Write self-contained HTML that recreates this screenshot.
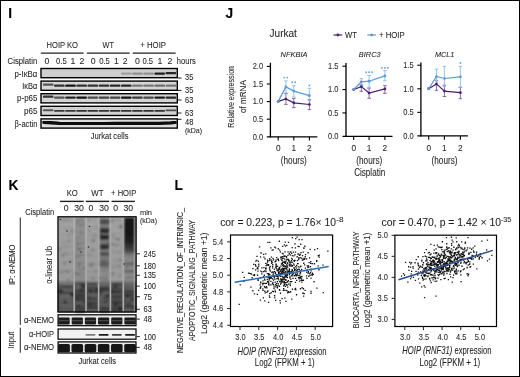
<!DOCTYPE html>
<html><head><meta charset="utf-8"><style>
html,body{margin:0;padding:0;background:#fff;}
body{width:520px;height:377px;overflow:hidden;}
svg{display:block;font-family:"Liberation Sans", sans-serif;will-change:transform;}
text{stroke:#231f20;stroke-width:0.08px;}
</style></head><body>
<svg width="520" height="377" viewBox="0 0 520 377">
<rect x="0" y="0" width="520" height="377" fill="#fff"/>
<text x="8.30" y="17.60" font-size="13.8" font-weight="bold" fill="#000">I</text>
<text x="225.60" y="17.60" font-size="13.8" font-weight="bold" fill="#000">J</text>
<text x="8.40" y="190.30" font-size="13.8" font-weight="bold" fill="#000">K</text>
<text x="174.60" y="190.30" font-size="13.8" font-weight="bold" fill="#000">L</text>
<text x="46.60" y="48.29" font-size="8.7" textLength="31.40" lengthAdjust="spacingAndGlyphs" fill="#231f20">HOIP KO</text>
<text x="102.50" y="48.29" font-size="8.7" textLength="11.40" lengthAdjust="spacingAndGlyphs" fill="#231f20">WT</text>
<text x="140.30" y="48.29" font-size="8.7" textLength="25.70" lengthAdjust="spacingAndGlyphs" fill="#231f20">+ HOIP</text>
<line x1="40.80" y1="53.10" x2="83.60" y2="53.10" stroke="#231f20" stroke-width="1.4"/>
<line x1="86.90" y1="53.10" x2="129.70" y2="53.10" stroke="#231f20" stroke-width="1.4"/>
<line x1="132.70" y1="53.10" x2="175.60" y2="53.10" stroke="#231f20" stroke-width="1.4"/>
<text x="7.60" y="63.59" font-size="8.7" textLength="29.70" lengthAdjust="spacingAndGlyphs" fill="#231f20">Cisplatin</text>
<text x="46.90" y="63.59" font-size="8.7" text-anchor="middle" fill="#231f20">0</text>
<text x="61.40" y="63.59" font-size="8.7" text-anchor="middle" textLength="10.60" lengthAdjust="spacingAndGlyphs" fill="#231f20">0.5</text>
<text x="73.00" y="63.59" font-size="8.7" text-anchor="middle" fill="#231f20">1</text>
<text x="81.90" y="63.59" font-size="8.7" text-anchor="middle" fill="#231f20">2</text>
<text x="93.20" y="63.59" font-size="8.7" text-anchor="middle" fill="#231f20">0</text>
<text x="104.50" y="63.59" font-size="8.7" text-anchor="middle" textLength="10.60" lengthAdjust="spacingAndGlyphs" fill="#231f20">0.5</text>
<text x="116.40" y="63.59" font-size="8.7" text-anchor="middle" fill="#231f20">1</text>
<text x="125.20" y="63.59" font-size="8.7" text-anchor="middle" fill="#231f20">2</text>
<text x="137.30" y="63.59" font-size="8.7" text-anchor="middle" fill="#231f20">0</text>
<text x="147.80" y="63.59" font-size="8.7" text-anchor="middle" textLength="10.60" lengthAdjust="spacingAndGlyphs" fill="#231f20">0.5</text>
<text x="160.00" y="63.59" font-size="8.7" text-anchor="middle" fill="#231f20">1</text>
<text x="170.00" y="63.59" font-size="8.7" text-anchor="middle" fill="#231f20">2</text>
<text x="176.80" y="63.59" font-size="8.7" textLength="18.90" lengthAdjust="spacingAndGlyphs" fill="#231f20">hours</text>
<text x="37.40" y="76.59" font-size="8.7" text-anchor="end" textLength="22.90" lengthAdjust="spacingAndGlyphs" fill="#231f20">p-I&#954;B&#945;</text>
<text x="37.40" y="88.69" font-size="8.7" text-anchor="end" textLength="15.20" lengthAdjust="spacingAndGlyphs" fill="#231f20">I&#954;B&#945;</text>
<text x="37.40" y="101.29" font-size="8.7" text-anchor="end" textLength="20.30" lengthAdjust="spacingAndGlyphs" fill="#231f20">p-p65</text>
<text x="37.40" y="113.69" font-size="8.7" text-anchor="end" textLength="13.40" lengthAdjust="spacingAndGlyphs" fill="#231f20">p65</text>
<text x="37.40" y="126.99" font-size="8.7" text-anchor="end" textLength="22.90" lengthAdjust="spacingAndGlyphs" fill="#231f20">&#946;-actin</text>
<defs><filter id="bl1" x="-20%" y="-50%" width="140%" height="200%"><feGaussianBlur stdDeviation="0.55"/></filter><filter id="bl2" x="-20%" y="-20%" width="140%" height="140%"><feGaussianBlur stdDeviation="0.9"/></filter><filter id="bl3" x="-5%" y="-5%" width="110%" height="110%"><feGaussianBlur stdDeviation="0.45"/></filter></defs>
<rect x="41.00" y="68.50" width="136.30" height="9.20" fill="#cfcfcf" stroke="none" stroke-width="1"/>
<g filter="url(#bl1)">
<rect x="120.95" y="72.50" width="10.6" height="2.2" rx="0.9" fill="#9f9f9f"/>
<rect x="132.10" y="72.50" width="10.6" height="2.2" rx="0.9" fill="#919191"/>
<rect x="143.25" y="72.50" width="10.6" height="2.2" rx="0.9" fill="#919191"/>
<rect x="154.40" y="72.50" width="10.6" height="2.2" rx="0.9" fill="#1f1f1f"/>
<rect x="165.55" y="72.10" width="10.6" height="2.2" rx="0.9" fill="#282828"/>
</g>
<rect x="41.00" y="68.50" width="136.30" height="9.20" fill="none" stroke="#000" stroke-width="1.4"/>
<rect x="41.00" y="81.10" width="136.30" height="9.20" fill="#d6d6d6" stroke="none" stroke-width="1"/>
<g filter="url(#bl1)">
<rect x="42.90" y="83.55" width="10.6" height="2.3" rx="0.9" fill="#545454"/>
<rect x="54.05" y="84.55" width="10.6" height="2.3" rx="0.9" fill="#313131"/>
<rect x="65.20" y="84.55" width="10.6" height="2.3" rx="0.9" fill="#161616"/>
<rect x="76.35" y="84.55" width="10.6" height="2.3" rx="0.9" fill="#313131"/>
<rect x="87.50" y="84.55" width="10.6" height="2.3" rx="0.9" fill="#313131"/>
<rect x="98.65" y="84.55" width="10.6" height="2.3" rx="0.9" fill="#313131"/>
<rect x="109.80" y="84.55" width="10.6" height="2.3" rx="0.9" fill="#282828"/>
<rect x="120.95" y="84.55" width="10.6" height="2.3" rx="0.9" fill="#282828"/>
<rect x="132.10" y="84.55" width="10.6" height="2.3" rx="0.9" fill="#777777"/>
<rect x="143.25" y="84.55" width="10.6" height="2.3" rx="0.9" fill="#777777"/>
<rect x="154.40" y="84.55" width="10.6" height="2.3" rx="0.9" fill="#6e6e6e"/>
<rect x="165.55" y="84.55" width="10.6" height="2.3" rx="0.9" fill="#777777"/>
</g>
<rect x="41.00" y="81.10" width="136.30" height="9.20" fill="none" stroke="#000" stroke-width="1.4"/>
<rect x="41.00" y="93.70" width="136.30" height="9.20" fill="#d4d4d4" stroke="none" stroke-width="1"/>
<g filter="url(#bl1)">
<rect x="42.90" y="95.60" width="10.6" height="2.2" rx="0.9" fill="#313131"/>
<rect x="54.05" y="96.50" width="10.6" height="2.2" rx="0.9" fill="#545454"/>
<rect x="65.20" y="96.50" width="10.6" height="2.2" rx="0.9" fill="#282828"/>
<rect x="76.35" y="96.50" width="10.6" height="2.2" rx="0.9" fill="#161616"/>
<rect x="87.50" y="96.50" width="10.6" height="2.2" rx="0.9" fill="#4b4b4b"/>
<rect x="98.65" y="96.50" width="10.6" height="2.2" rx="0.9" fill="#424242"/>
<rect x="109.80" y="96.50" width="10.6" height="2.2" rx="0.9" fill="#424242"/>
<rect x="120.95" y="96.50" width="10.6" height="2.2" rx="0.9" fill="#161616"/>
<rect x="132.10" y="96.50" width="10.6" height="2.2" rx="0.9" fill="#3a3a3a"/>
<rect x="143.25" y="96.50" width="10.6" height="2.2" rx="0.9" fill="#4b4b4b"/>
<rect x="154.40" y="96.50" width="10.6" height="2.2" rx="0.9" fill="#1f1f1f"/>
<rect x="165.55" y="96.50" width="10.6" height="2.2" rx="0.9" fill="#282828"/>
</g>
<rect x="41.00" y="93.70" width="136.30" height="9.20" fill="none" stroke="#000" stroke-width="1.4"/>
<rect x="41.00" y="106.30" width="136.30" height="9.20" fill="#d2d2d2" stroke="none" stroke-width="1"/>
<g filter="url(#bl1)">
<rect x="42.90" y="109.25" width="10.6" height="1.9" rx="0.9" fill="#545454"/>
<rect x="54.05" y="109.95" width="10.6" height="1.9" rx="0.9" fill="#3a3a3a"/>
<rect x="65.20" y="109.95" width="10.6" height="1.9" rx="0.9" fill="#3a3a3a"/>
<rect x="76.35" y="109.95" width="10.6" height="1.9" rx="0.9" fill="#313131"/>
<rect x="87.50" y="109.95" width="10.6" height="1.9" rx="0.9" fill="#313131"/>
<rect x="98.65" y="109.95" width="10.6" height="1.9" rx="0.9" fill="#313131"/>
<rect x="109.80" y="109.95" width="10.6" height="1.9" rx="0.9" fill="#313131"/>
<rect x="120.95" y="109.95" width="10.6" height="1.9" rx="0.9" fill="#313131"/>
<rect x="132.10" y="109.95" width="10.6" height="1.9" rx="0.9" fill="#313131"/>
<rect x="143.25" y="109.95" width="10.6" height="1.9" rx="0.9" fill="#313131"/>
<rect x="154.40" y="109.95" width="10.6" height="1.9" rx="0.9" fill="#313131"/>
<rect x="165.55" y="109.45" width="10.6" height="1.9" rx="0.9" fill="#4b4b4b"/>
</g>
<rect x="41.00" y="106.30" width="136.30" height="9.20" fill="none" stroke="#000" stroke-width="1.4"/>
<rect x="41.00" y="118.90" width="136.30" height="9.20" fill="#dedede" stroke="none" stroke-width="1"/>
<g filter="url(#bl1)">
<path d="M43.8 122.4 L48.2 122.5 L59.4 123.4 L70.5 123.6 L81.7 123.6 L92.8 123.6 L104.0 123.6 L115.1 123.5 L126.2 123.5 L137.4 123.5 L148.6 123.5 L159.7 123.4 L170.9 122.8 L175.2 122.4" fill="none" stroke="#0a0a0a" stroke-width="3.3" stroke-linecap="round" stroke-linejoin="round"/>
</g>
<rect x="41.00" y="118.90" width="136.30" height="9.20" fill="none" stroke="#000" stroke-width="1.4"/>
<line x1="178.00" y1="78.00" x2="181.50" y2="78.00" stroke="#231f20" stroke-width="1.0"/>
<text x="185.00" y="80.49" font-size="8.7" textLength="8.30" lengthAdjust="spacingAndGlyphs" fill="#231f20">35</text>
<line x1="178.00" y1="90.40" x2="181.50" y2="90.40" stroke="#231f20" stroke-width="1.0"/>
<text x="185.00" y="92.99" font-size="8.7" textLength="8.30" lengthAdjust="spacingAndGlyphs" fill="#231f20">35</text>
<line x1="178.00" y1="100.00" x2="181.50" y2="100.00" stroke="#231f20" stroke-width="1.0"/>
<text x="185.00" y="102.99" font-size="8.7" textLength="8.30" lengthAdjust="spacingAndGlyphs" fill="#231f20">63</text>
<line x1="178.00" y1="113.00" x2="181.50" y2="113.00" stroke="#231f20" stroke-width="1.0"/>
<text x="185.00" y="115.99" font-size="8.7" textLength="8.30" lengthAdjust="spacingAndGlyphs" fill="#231f20">63</text>
<line x1="178.00" y1="119.30" x2="181.50" y2="119.30" stroke="#231f20" stroke-width="1.0"/>
<text x="185.00" y="124.99" font-size="8.7" textLength="8.30" lengthAdjust="spacingAndGlyphs" fill="#231f20">48</text>
<text x="184.90" y="133.20" font-size="7.4" textLength="17.20" lengthAdjust="spacingAndGlyphs" fill="#231f20">(kDa)</text>
<text x="90.70" y="139.49" font-size="8.7" textLength="37.80" lengthAdjust="spacingAndGlyphs" fill="#231f20">Jurkat cells</text>
<text x="269.60" y="36.90" font-size="10.3" textLength="27.20" lengthAdjust="spacingAndGlyphs" fill="#231f20">Jurkat</text>
<line x1="333.50" y1="35.00" x2="342.20" y2="35.00" stroke="#4b1f6f" stroke-width="1.2"/>
<circle cx="337.9" cy="35" r="1.4" fill="#4b1f6f"/>
<text x="345.10" y="38.29" font-size="8.7" textLength="11.90" lengthAdjust="spacingAndGlyphs" fill="#231f20">WT</text>
<line x1="367.30" y1="35.00" x2="376.00" y2="35.00" stroke="#5b9ad6" stroke-width="1.2"/>
<circle cx="371.7" cy="35" r="1.4" fill="#5b9ad6"/>
<text x="379.00" y="38.29" font-size="8.7" textLength="25.70" lengthAdjust="spacingAndGlyphs" fill="#231f20">+ HOIP</text>
<text x="280.60" y="56.60" font-size="8.0" font-style="italic" textLength="27.00" lengthAdjust="spacingAndGlyphs" fill="#231f20">NFKBIA</text>
<text x="358.80" y="56.60" font-size="8.0" font-style="italic" textLength="21.80" lengthAdjust="spacingAndGlyphs" fill="#231f20">BIRC3</text>
<text x="435.00" y="56.60" font-size="8.0" font-style="italic" textLength="19.40" lengthAdjust="spacingAndGlyphs" fill="#231f20">MCL1</text>
<text transform="translate(234.40,96.80) rotate(-90)" x="0" y="0" font-size="9.6" text-anchor="middle" textLength="61.70" lengthAdjust="spacingAndGlyphs" fill="#231f20">Relative expression</text>
<text transform="translate(245.60,96.60) rotate(-90)" x="0" y="0" font-size="9.6" text-anchor="middle" textLength="33.00" lengthAdjust="spacingAndGlyphs" fill="#231f20">of mRNA</text>
<line x1="270.40" y1="62.80" x2="270.40" y2="137.40" stroke="#000" stroke-width="1.3"/>
<line x1="266.80" y1="136.80" x2="317.30" y2="136.80" stroke="#000" stroke-width="1.3"/>
<text x="263.10" y="139.60" font-size="9.0" text-anchor="end" textLength="10.40" lengthAdjust="spacingAndGlyphs" fill="#231f20">0.0</text>
<line x1="266.80" y1="119.20" x2="270.40" y2="119.20" stroke="#000" stroke-width="1.1"/>
<text x="263.10" y="122.00" font-size="9.0" text-anchor="end" textLength="10.40" lengthAdjust="spacingAndGlyphs" fill="#231f20">0.5</text>
<line x1="266.80" y1="101.60" x2="270.40" y2="101.60" stroke="#000" stroke-width="1.1"/>
<text x="263.10" y="104.40" font-size="9.0" text-anchor="end" textLength="10.40" lengthAdjust="spacingAndGlyphs" fill="#231f20">1.0</text>
<line x1="266.80" y1="84.00" x2="270.40" y2="84.00" stroke="#000" stroke-width="1.1"/>
<text x="263.10" y="86.80" font-size="9.0" text-anchor="end" textLength="10.40" lengthAdjust="spacingAndGlyphs" fill="#231f20">1.5</text>
<line x1="266.80" y1="66.40" x2="270.40" y2="66.40" stroke="#000" stroke-width="1.1"/>
<text x="263.10" y="69.20" font-size="9.0" text-anchor="end" textLength="10.40" lengthAdjust="spacingAndGlyphs" fill="#231f20">2.0</text>
<line x1="278.20" y1="136.80" x2="278.20" y2="140.60" stroke="#000" stroke-width="1.1"/>
<line x1="293.80" y1="136.80" x2="293.80" y2="140.60" stroke="#000" stroke-width="1.1"/>
<line x1="309.40" y1="136.80" x2="309.40" y2="140.60" stroke="#000" stroke-width="1.1"/>
<text x="278.20" y="150.60" font-size="9.0" text-anchor="middle" textLength="4.60" lengthAdjust="spacingAndGlyphs" fill="#231f20">0</text>
<text x="293.80" y="150.60" font-size="9.0" text-anchor="middle" textLength="4.60" lengthAdjust="spacingAndGlyphs" fill="#231f20">1</text>
<text x="309.40" y="150.60" font-size="9.0" text-anchor="middle" textLength="4.60" lengthAdjust="spacingAndGlyphs" fill="#231f20">2</text>
<text x="293.80" y="164.20" font-size="10.2" text-anchor="middle" textLength="26.00" lengthAdjust="spacingAndGlyphs" fill="#231f20">(hours)</text>
<line x1="285.90" y1="93.60" x2="285.90" y2="104.40" stroke="#7d5e96" stroke-width="0.9"/>
<line x1="284.10" y1="93.60" x2="287.70" y2="93.60" stroke="#7d5e96" stroke-width="0.9"/>
<line x1="284.10" y1="104.40" x2="287.70" y2="104.40" stroke="#7d5e96" stroke-width="0.9"/>
<line x1="293.80" y1="98.40" x2="293.80" y2="107.60" stroke="#7d5e96" stroke-width="0.9"/>
<line x1="292.00" y1="98.40" x2="295.60" y2="98.40" stroke="#7d5e96" stroke-width="0.9"/>
<line x1="292.00" y1="107.60" x2="295.60" y2="107.60" stroke="#7d5e96" stroke-width="0.9"/>
<line x1="309.40" y1="99.70" x2="309.40" y2="109.60" stroke="#7d5e96" stroke-width="0.9"/>
<line x1="307.60" y1="99.70" x2="311.20" y2="99.70" stroke="#7d5e96" stroke-width="0.9"/>
<line x1="307.60" y1="109.60" x2="311.20" y2="109.60" stroke="#7d5e96" stroke-width="0.9"/>
<line x1="285.90" y1="80.90" x2="285.90" y2="93.00" stroke="#8dbbe6" stroke-width="0.9"/>
<line x1="284.10" y1="80.90" x2="287.70" y2="80.90" stroke="#8dbbe6" stroke-width="0.9"/>
<line x1="284.10" y1="93.00" x2="287.70" y2="93.00" stroke="#8dbbe6" stroke-width="0.9"/>
<line x1="293.80" y1="85.60" x2="293.80" y2="97.00" stroke="#8dbbe6" stroke-width="0.9"/>
<line x1="292.00" y1="85.60" x2="295.60" y2="85.60" stroke="#8dbbe6" stroke-width="0.9"/>
<line x1="292.00" y1="97.00" x2="295.60" y2="97.00" stroke="#8dbbe6" stroke-width="0.9"/>
<line x1="309.40" y1="88.30" x2="309.40" y2="100.40" stroke="#8dbbe6" stroke-width="0.9"/>
<line x1="307.60" y1="88.30" x2="311.20" y2="88.30" stroke="#8dbbe6" stroke-width="0.9"/>
<line x1="307.60" y1="100.40" x2="311.20" y2="100.40" stroke="#8dbbe6" stroke-width="0.9"/>
<polyline points="278.20,101.40 285.90,99.00 293.80,102.80 309.40,104.50" fill="none" stroke="#4b1f6f" stroke-width="1.2"/>
<circle cx="278.20" cy="101.40" r="1.35" fill="#4b1f6f"/>
<circle cx="285.90" cy="99.00" r="1.35" fill="#4b1f6f"/>
<circle cx="293.80" cy="102.80" r="1.35" fill="#4b1f6f"/>
<circle cx="309.40" cy="104.50" r="1.35" fill="#4b1f6f"/>
<polyline points="278.20,101.40 285.90,86.90 293.80,91.10 309.40,95.70" fill="none" stroke="#5b9ad6" stroke-width="1.2"/>
<circle cx="278.20" cy="101.40" r="1.35" fill="#5b9ad6"/>
<circle cx="285.90" cy="86.90" r="1.35" fill="#5b9ad6"/>
<circle cx="293.80" cy="91.10" r="1.35" fill="#5b9ad6"/>
<circle cx="309.40" cy="95.70" r="1.35" fill="#5b9ad6"/>
<circle cx="284.30" cy="77.60" r="0.95" fill="#6aa6dd"/>
<circle cx="287.30" cy="77.60" r="0.95" fill="#6aa6dd"/>
<circle cx="292.20" cy="82.30" r="0.95" fill="#6aa6dd"/>
<circle cx="295.20" cy="82.30" r="0.95" fill="#6aa6dd"/>
<circle cx="309.30" cy="85.40" r="0.95" fill="#6aa6dd"/>
<line x1="346.00" y1="63.10" x2="346.00" y2="136.90" stroke="#000" stroke-width="1.3"/>
<line x1="342.40" y1="136.30" x2="392.50" y2="136.30" stroke="#000" stroke-width="1.3"/>
<text x="338.50" y="139.10" font-size="9.0" text-anchor="end" textLength="10.40" lengthAdjust="spacingAndGlyphs" fill="#231f20">0.0</text>
<line x1="342.40" y1="112.93" x2="346.00" y2="112.93" stroke="#000" stroke-width="1.1"/>
<text x="338.50" y="115.73" font-size="9.0" text-anchor="end" textLength="10.40" lengthAdjust="spacingAndGlyphs" fill="#231f20">0.5</text>
<line x1="342.40" y1="89.55" x2="346.00" y2="89.55" stroke="#000" stroke-width="1.1"/>
<text x="338.50" y="92.35" font-size="9.0" text-anchor="end" textLength="10.40" lengthAdjust="spacingAndGlyphs" fill="#231f20">1.0</text>
<line x1="342.40" y1="66.18" x2="346.00" y2="66.18" stroke="#000" stroke-width="1.1"/>
<text x="338.50" y="68.98" font-size="9.0" text-anchor="end" textLength="10.40" lengthAdjust="spacingAndGlyphs" fill="#231f20">1.5</text>
<line x1="353.70" y1="136.30" x2="353.70" y2="140.10" stroke="#000" stroke-width="1.1"/>
<line x1="369.10" y1="136.30" x2="369.10" y2="140.10" stroke="#000" stroke-width="1.1"/>
<line x1="384.90" y1="136.30" x2="384.90" y2="140.10" stroke="#000" stroke-width="1.1"/>
<text x="353.70" y="150.60" font-size="9.0" text-anchor="middle" textLength="4.60" lengthAdjust="spacingAndGlyphs" fill="#231f20">0</text>
<text x="369.10" y="150.60" font-size="9.0" text-anchor="middle" textLength="4.60" lengthAdjust="spacingAndGlyphs" fill="#231f20">1</text>
<text x="384.90" y="150.60" font-size="9.0" text-anchor="middle" textLength="4.60" lengthAdjust="spacingAndGlyphs" fill="#231f20">2</text>
<text x="369.30" y="164.20" font-size="10.2" text-anchor="middle" textLength="26.00" lengthAdjust="spacingAndGlyphs" fill="#231f20">(hours)</text>
<line x1="361.30" y1="84.90" x2="361.30" y2="91.30" stroke="#7d5e96" stroke-width="0.9"/>
<line x1="359.50" y1="84.90" x2="363.10" y2="84.90" stroke="#7d5e96" stroke-width="0.9"/>
<line x1="359.50" y1="91.30" x2="363.10" y2="91.30" stroke="#7d5e96" stroke-width="0.9"/>
<line x1="369.10" y1="88.00" x2="369.10" y2="98.30" stroke="#7d5e96" stroke-width="0.9"/>
<line x1="367.30" y1="88.00" x2="370.90" y2="88.00" stroke="#7d5e96" stroke-width="0.9"/>
<line x1="367.30" y1="98.30" x2="370.90" y2="98.30" stroke="#7d5e96" stroke-width="0.9"/>
<line x1="384.90" y1="85.70" x2="384.90" y2="93.40" stroke="#7d5e96" stroke-width="0.9"/>
<line x1="383.10" y1="85.70" x2="386.70" y2="85.70" stroke="#7d5e96" stroke-width="0.9"/>
<line x1="383.10" y1="93.40" x2="386.70" y2="93.40" stroke="#7d5e96" stroke-width="0.9"/>
<line x1="361.30" y1="78.60" x2="361.30" y2="84.90" stroke="#8dbbe6" stroke-width="0.9"/>
<line x1="359.50" y1="78.60" x2="363.10" y2="78.60" stroke="#8dbbe6" stroke-width="0.9"/>
<line x1="359.50" y1="84.90" x2="363.10" y2="84.90" stroke="#8dbbe6" stroke-width="0.9"/>
<line x1="369.10" y1="75.50" x2="369.10" y2="87.30" stroke="#8dbbe6" stroke-width="0.9"/>
<line x1="367.30" y1="75.50" x2="370.90" y2="75.50" stroke="#8dbbe6" stroke-width="0.9"/>
<line x1="367.30" y1="87.30" x2="370.90" y2="87.30" stroke="#8dbbe6" stroke-width="0.9"/>
<line x1="384.90" y1="70.50" x2="384.90" y2="80.80" stroke="#8dbbe6" stroke-width="0.9"/>
<line x1="383.10" y1="70.50" x2="386.70" y2="70.50" stroke="#8dbbe6" stroke-width="0.9"/>
<line x1="383.10" y1="80.80" x2="386.70" y2="80.80" stroke="#8dbbe6" stroke-width="0.9"/>
<polyline points="353.70,89.50 361.30,86.60 369.10,93.00 384.90,88.90" fill="none" stroke="#4b1f6f" stroke-width="1.2"/>
<circle cx="353.70" cy="89.50" r="1.35" fill="#4b1f6f"/>
<circle cx="361.30" cy="86.60" r="1.35" fill="#4b1f6f"/>
<circle cx="369.10" cy="93.00" r="1.35" fill="#4b1f6f"/>
<circle cx="384.90" cy="88.90" r="1.35" fill="#4b1f6f"/>
<polyline points="353.70,89.50 361.30,81.90 369.10,81.20 384.90,75.90" fill="none" stroke="#5b9ad6" stroke-width="1.2"/>
<circle cx="353.70" cy="89.50" r="1.35" fill="#5b9ad6"/>
<circle cx="361.30" cy="81.90" r="1.35" fill="#5b9ad6"/>
<circle cx="369.10" cy="81.20" r="1.35" fill="#5b9ad6"/>
<circle cx="384.90" cy="75.90" r="1.35" fill="#5b9ad6"/>
<circle cx="366.10" cy="72.30" r="0.95" fill="#6aa6dd"/>
<circle cx="369.10" cy="72.30" r="0.95" fill="#6aa6dd"/>
<circle cx="372.10" cy="72.30" r="0.95" fill="#6aa6dd"/>
<circle cx="381.90" cy="67.90" r="0.95" fill="#6aa6dd"/>
<circle cx="384.90" cy="67.90" r="0.95" fill="#6aa6dd"/>
<circle cx="387.90" cy="67.90" r="0.95" fill="#6aa6dd"/>
<line x1="420.90" y1="62.40" x2="420.90" y2="136.50" stroke="#000" stroke-width="1.3"/>
<line x1="417.30" y1="135.90" x2="467.90" y2="135.90" stroke="#000" stroke-width="1.3"/>
<text x="413.70" y="138.70" font-size="9.0" text-anchor="end" textLength="10.40" lengthAdjust="spacingAndGlyphs" fill="#231f20">0.0</text>
<line x1="417.30" y1="112.35" x2="420.90" y2="112.35" stroke="#000" stroke-width="1.1"/>
<text x="413.70" y="115.15" font-size="9.0" text-anchor="end" textLength="10.40" lengthAdjust="spacingAndGlyphs" fill="#231f20">0.5</text>
<line x1="417.30" y1="88.80" x2="420.90" y2="88.80" stroke="#000" stroke-width="1.1"/>
<text x="413.70" y="91.60" font-size="9.0" text-anchor="end" textLength="10.40" lengthAdjust="spacingAndGlyphs" fill="#231f20">1.0</text>
<line x1="417.30" y1="65.25" x2="420.90" y2="65.25" stroke="#000" stroke-width="1.1"/>
<text x="413.70" y="68.05" font-size="9.0" text-anchor="end" textLength="10.40" lengthAdjust="spacingAndGlyphs" fill="#231f20">1.5</text>
<line x1="428.70" y1="135.90" x2="428.70" y2="139.70" stroke="#000" stroke-width="1.1"/>
<line x1="444.40" y1="135.90" x2="444.40" y2="139.70" stroke="#000" stroke-width="1.1"/>
<line x1="460.40" y1="135.90" x2="460.40" y2="139.70" stroke="#000" stroke-width="1.1"/>
<text x="428.70" y="150.60" font-size="9.0" text-anchor="middle" textLength="4.60" lengthAdjust="spacingAndGlyphs" fill="#231f20">0</text>
<text x="444.40" y="150.60" font-size="9.0" text-anchor="middle" textLength="4.60" lengthAdjust="spacingAndGlyphs" fill="#231f20">1</text>
<text x="460.40" y="150.60" font-size="9.0" text-anchor="middle" textLength="4.60" lengthAdjust="spacingAndGlyphs" fill="#231f20">2</text>
<text x="444.55" y="164.20" font-size="10.2" text-anchor="middle" textLength="26.00" lengthAdjust="spacingAndGlyphs" fill="#231f20">(hours)</text>
<line x1="436.50" y1="80.80" x2="436.50" y2="90.30" stroke="#7d5e96" stroke-width="0.9"/>
<line x1="434.70" y1="80.80" x2="438.30" y2="80.80" stroke="#7d5e96" stroke-width="0.9"/>
<line x1="434.70" y1="90.30" x2="438.30" y2="90.30" stroke="#7d5e96" stroke-width="0.9"/>
<line x1="444.40" y1="85.20" x2="444.40" y2="96.50" stroke="#7d5e96" stroke-width="0.9"/>
<line x1="442.60" y1="85.20" x2="446.20" y2="85.20" stroke="#7d5e96" stroke-width="0.9"/>
<line x1="442.60" y1="96.50" x2="446.20" y2="96.50" stroke="#7d5e96" stroke-width="0.9"/>
<line x1="460.40" y1="87.30" x2="460.40" y2="98.70" stroke="#7d5e96" stroke-width="0.9"/>
<line x1="458.60" y1="87.30" x2="462.20" y2="87.30" stroke="#7d5e96" stroke-width="0.9"/>
<line x1="458.60" y1="98.70" x2="462.20" y2="98.70" stroke="#7d5e96" stroke-width="0.9"/>
<line x1="436.50" y1="69.10" x2="436.50" y2="85.30" stroke="#8dbbe6" stroke-width="0.9"/>
<line x1="434.70" y1="69.10" x2="438.30" y2="69.10" stroke="#8dbbe6" stroke-width="0.9"/>
<line x1="434.70" y1="85.30" x2="438.30" y2="85.30" stroke="#8dbbe6" stroke-width="0.9"/>
<line x1="444.40" y1="66.40" x2="444.40" y2="86.50" stroke="#8dbbe6" stroke-width="0.9"/>
<line x1="442.60" y1="66.40" x2="446.20" y2="66.40" stroke="#8dbbe6" stroke-width="0.9"/>
<line x1="442.60" y1="86.50" x2="446.20" y2="86.50" stroke="#8dbbe6" stroke-width="0.9"/>
<line x1="460.40" y1="66.40" x2="460.40" y2="87.30" stroke="#8dbbe6" stroke-width="0.9"/>
<line x1="458.60" y1="66.40" x2="462.20" y2="66.40" stroke="#8dbbe6" stroke-width="0.9"/>
<line x1="458.60" y1="87.30" x2="462.20" y2="87.30" stroke="#8dbbe6" stroke-width="0.9"/>
<polyline points="428.70,88.70 436.50,83.90 444.40,91.10 460.40,92.70" fill="none" stroke="#4b1f6f" stroke-width="1.2"/>
<circle cx="428.70" cy="88.70" r="1.35" fill="#4b1f6f"/>
<circle cx="436.50" cy="83.90" r="1.35" fill="#4b1f6f"/>
<circle cx="444.40" cy="91.10" r="1.35" fill="#4b1f6f"/>
<circle cx="460.40" cy="92.70" r="1.35" fill="#4b1f6f"/>
<polyline points="428.70,88.70 436.50,76.50 444.40,78.50 460.40,76.80" fill="none" stroke="#5b9ad6" stroke-width="1.2"/>
<circle cx="428.70" cy="88.70" r="1.35" fill="#5b9ad6"/>
<circle cx="436.50" cy="76.50" r="1.35" fill="#5b9ad6"/>
<circle cx="444.40" cy="78.50" r="1.35" fill="#5b9ad6"/>
<circle cx="460.40" cy="76.80" r="1.35" fill="#5b9ad6"/>
<circle cx="460.40" cy="63.00" r="0.95" fill="#6aa6dd"/>
<text x="354.20" y="175.60" font-size="10.2" textLength="31.00" lengthAdjust="spacingAndGlyphs" fill="#231f20">Cisplatin</text>
<text x="66.70" y="196.10" font-size="8.7" textLength="11.10" lengthAdjust="spacingAndGlyphs" fill="#231f20">KO</text>
<text x="91.30" y="196.10" font-size="8.7" textLength="12.20" lengthAdjust="spacingAndGlyphs" fill="#231f20">WT</text>
<text x="111.10" y="196.10" font-size="8.7" textLength="25.10" lengthAdjust="spacingAndGlyphs" fill="#231f20">+ HOIP</text>
<line x1="60.00" y1="201.40" x2="83.70" y2="201.40" stroke="#231f20" stroke-width="1.4"/>
<line x1="85.70" y1="201.40" x2="109.10" y2="201.40" stroke="#231f20" stroke-width="1.4"/>
<line x1="111.50" y1="201.40" x2="134.80" y2="201.40" stroke="#231f20" stroke-width="1.4"/>
<text x="66.10" y="211.30" font-size="8.7" text-anchor="middle" fill="#231f20">0</text>
<text x="79.00" y="211.30" font-size="8.7" text-anchor="middle" fill="#231f20">30</text>
<text x="91.00" y="211.30" font-size="8.7" text-anchor="middle" fill="#231f20">0</text>
<text x="104.10" y="211.30" font-size="8.7" text-anchor="middle" fill="#231f20">30</text>
<text x="115.60" y="211.30" font-size="8.7" text-anchor="middle" fill="#231f20">0</text>
<text x="128.30" y="211.30" font-size="8.7" text-anchor="middle" fill="#231f20">30</text>
<text x="25.20" y="215.00" font-size="8.7" textLength="29.00" lengthAdjust="spacingAndGlyphs" fill="#231f20">Cisplatin</text>
<text x="139.90" y="214.80" font-size="7.6" textLength="12.10" lengthAdjust="spacingAndGlyphs" fill="#231f20">min</text>
<text x="139.90" y="223.30" font-size="7.4" textLength="17.10" lengthAdjust="spacingAndGlyphs" fill="#231f20">(kDa)</text>
<defs><linearGradient id="gK" x1="0" y1="0" x2="0" y2="1"><stop offset="0" stop-color="#a2a2a2"/><stop offset="0.66" stop-color="#9a9a9a"/><stop offset="0.70" stop-color="#6c6c6c"/><stop offset="0.75" stop-color="#565656"/><stop offset="1" stop-color="#505050"/></linearGradient><linearGradient id="gD" x1="0" y1="0" x2="0" y2="1"><stop offset="0" stop-color="#c4c4c4" stop-opacity="0.45"/><stop offset="0.66" stop-color="#c0c0c0" stop-opacity="0.45"/><stop offset="0.74" stop-color="#b2b2b2"/><stop offset="1" stop-color="#aaaaaa"/></linearGradient><linearGradient id="gL6" x1="0" y1="0" x2="0" y2="1"><stop offset="0" stop-color="#111"/><stop offset="0.55" stop-color="#1c1c1c"/><stop offset="0.78" stop-color="#444"/><stop offset="1" stop-color="#8a8a8a" stop-opacity="0"/></linearGradient></defs>
<rect x="57.50" y="216.30" width="79.10" height="96.20" fill="url(#gK)" stroke="none" stroke-width="1"/>
<g filter="url(#bl2)">
<rect x="60.0" y="219.0" width="12.7" height="2.8" fill="#5a5a5a" opacity="0.17"/>
<circle cx="66.6" cy="220.1" r="0.9" fill="#555" opacity="0.37"/>
<circle cx="65.1" cy="219.2" r="0.8" fill="#555" opacity="0.55"/>
<rect x="60.0" y="226.9" width="12.7" height="1.7" fill="#5a5a5a" opacity="0.12"/>
<circle cx="72.8" cy="230.5" r="1.6" fill="#555" opacity="0.37"/>
<circle cx="66.3" cy="229.6" r="0.9" fill="#555" opacity="0.42"/>
<rect x="60.0" y="232.2" width="12.7" height="3.0" fill="#5a5a5a" opacity="0.06"/>
<circle cx="68.8" cy="235.7" r="1.0" fill="#555" opacity="0.52"/>
<circle cx="71.4" cy="232.2" r="1.5" fill="#555" opacity="0.25"/>
<rect x="60.0" y="239.6" width="12.7" height="2.1" fill="#5a5a5a" opacity="0.08"/>
<circle cx="64.0" cy="242.9" r="1.1" fill="#555" opacity="0.29"/>
<circle cx="69.1" cy="241.4" r="1.6" fill="#555" opacity="0.32"/>
<rect x="60.0" y="245.5" width="12.7" height="2.8" fill="#5a5a5a" opacity="0.13"/>
<circle cx="66.4" cy="246.4" r="0.8" fill="#555" opacity="0.53"/>
<circle cx="60.7" cy="248.9" r="1.2" fill="#555" opacity="0.54"/>
<rect x="60.0" y="252.4" width="12.7" height="3.1" fill="#5a5a5a" opacity="0.13"/>
<circle cx="62.8" cy="255.4" r="1.5" fill="#555" opacity="0.46"/>
<circle cx="65.9" cy="253.3" r="1.4" fill="#555" opacity="0.28"/>
<rect x="60.0" y="260.7" width="12.7" height="2.5" fill="#5a5a5a" opacity="0.11"/>
<circle cx="70.4" cy="261.5" r="1.2" fill="#555" opacity="0.49"/>
<circle cx="64.7" cy="263.6" r="1.4" fill="#555" opacity="0.53"/>
<rect x="60.0" y="269.7" width="12.7" height="2.6" fill="#5a5a5a" opacity="0.17"/>
<circle cx="61.6" cy="272.5" r="1.6" fill="#555" opacity="0.37"/>
<circle cx="67.1" cy="271.6" r="1.8" fill="#555" opacity="0.35"/>
<rect x="60.0" y="276.4" width="12.7" height="1.2" fill="#5a5a5a" opacity="0.11"/>
<circle cx="68.2" cy="280.2" r="1.7" fill="#555" opacity="0.35"/>
<circle cx="73.0" cy="277.2" r="1.6" fill="#555" opacity="0.30"/>
<rect x="59.8" y="283.0" width="13.1" height="1.4" fill="#8a8a8a" opacity="0.45"/>
<rect x="59.8" y="285.4" width="13.1" height="2.4" fill="#2a2a2a" opacity="0.6"/>
<rect x="59.8" y="289.4" width="13.1" height="1.4" fill="#747474" opacity="0.45"/>
<rect x="59.8" y="292.3" width="13.1" height="1.3" fill="#1f1f1f" opacity="0.6"/>
<rect x="59.8" y="294.9" width="13.1" height="3.2" fill="#7c7c7c" opacity="0.45"/>
<rect x="59.8" y="299.6" width="13.1" height="2.7" fill="#767676" opacity="0.45"/>
<rect x="59.8" y="304.3" width="13.1" height="2.1" fill="#868686" opacity="0.45"/>
<rect x="59.8" y="307.9" width="13.1" height="2.7" fill="#696969" opacity="0.45"/>
<circle cx="61.5" cy="291.1" r="1.3" fill="#1c1c1c" opacity="0.7"/>
<circle cx="60.2" cy="291.2" r="1.8" fill="#1c1c1c" opacity="0.7"/>
<circle cx="71.6" cy="294.4" r="1.5" fill="#1c1c1c" opacity="0.7"/>
<circle cx="65.2" cy="302.3" r="2.0" fill="#1c1c1c" opacity="0.7"/>
<circle cx="72.4" cy="295.0" r="1.9" fill="#1c1c1c" opacity="0.7"/>
<rect x="75.2" y="217.3" width="9.8" height="94.2" fill="#000" opacity="0.1"/>
<rect x="75.7" y="219.0" width="8.8" height="1.9" fill="#5a5a5a" opacity="0.27"/>
<circle cx="77.5" cy="222.5" r="1.3" fill="#555" opacity="0.47"/>
<circle cx="80.4" cy="220.3" r="1.3" fill="#555" opacity="0.27"/>
<rect x="75.7" y="223.6" width="8.8" height="2.3" fill="#5a5a5a" opacity="0.22"/>
<circle cx="83.4" cy="223.6" r="1.4" fill="#555" opacity="0.40"/>
<circle cx="81.1" cy="226.5" r="1.3" fill="#555" opacity="0.42"/>
<rect x="75.7" y="230.3" width="8.8" height="2.4" fill="#5a5a5a" opacity="0.19"/>
<circle cx="80.6" cy="233.0" r="1.0" fill="#555" opacity="0.55"/>
<circle cx="82.5" cy="234.1" r="1.1" fill="#555" opacity="0.38"/>
<rect x="75.7" y="236.3" width="8.8" height="1.3" fill="#5a5a5a" opacity="0.15"/>
<circle cx="77.6" cy="239.7" r="1.0" fill="#555" opacity="0.46"/>
<circle cx="77.6" cy="236.5" r="1.0" fill="#555" opacity="0.45"/>
<rect x="75.7" y="242.1" width="8.8" height="2.3" fill="#5a5a5a" opacity="0.22"/>
<circle cx="77.9" cy="244.0" r="1.7" fill="#555" opacity="0.31"/>
<circle cx="82.4" cy="243.1" r="1.0" fill="#555" opacity="0.35"/>
<rect x="75.7" y="247.2" width="8.8" height="3.1" fill="#5a5a5a" opacity="0.20"/>
<circle cx="76.9" cy="247.2" r="0.9" fill="#555" opacity="0.31"/>
<circle cx="79.3" cy="249.6" r="1.8" fill="#555" opacity="0.52"/>
<rect x="75.7" y="253.8" width="8.8" height="2.4" fill="#5a5a5a" opacity="0.29"/>
<circle cx="76.2" cy="257.2" r="1.2" fill="#555" opacity="0.48"/>
<circle cx="78.4" cy="256.3" r="1.3" fill="#555" opacity="0.28"/>
<rect x="75.7" y="261.7" width="8.8" height="2.8" fill="#5a5a5a" opacity="0.22"/>
<circle cx="79.0" cy="265.5" r="1.2" fill="#555" opacity="0.51"/>
<circle cx="79.3" cy="263.2" r="1.2" fill="#555" opacity="0.27"/>
<rect x="75.7" y="268.2" width="8.8" height="1.7" fill="#5a5a5a" opacity="0.16"/>
<circle cx="80.5" cy="270.0" r="0.8" fill="#555" opacity="0.30"/>
<circle cx="84.2" cy="268.7" r="1.2" fill="#555" opacity="0.54"/>
<rect x="75.7" y="272.8" width="8.8" height="2.0" fill="#5a5a5a" opacity="0.27"/>
<circle cx="75.4" cy="273.1" r="1.7" fill="#555" opacity="0.46"/>
<circle cx="77.8" cy="274.7" r="1.0" fill="#555" opacity="0.52"/>
<rect x="75.5" y="283.0" width="9.2" height="1.4" fill="#1f1f1f" opacity="0.6"/>
<rect x="75.5" y="285.8" width="9.2" height="2.8" fill="#707070" opacity="0.45"/>
<rect x="75.5" y="289.9" width="9.2" height="2.1" fill="#303030" opacity="0.6"/>
<rect x="75.5" y="294.0" width="9.2" height="1.9" fill="#1b1b1b" opacity="0.6"/>
<rect x="75.5" y="297.3" width="9.2" height="3.3" fill="#2c2c2c" opacity="0.6"/>
<rect x="75.5" y="302.3" width="9.2" height="2.4" fill="#737373" opacity="0.45"/>
<rect x="75.5" y="306.0" width="9.2" height="3.2" fill="#3a3a3a" opacity="0.6"/>
<rect x="75.5" y="310.2" width="9.2" height="2.9" fill="#292929" opacity="0.6"/>
<circle cx="76.5" cy="298.3" r="1.3" fill="#1c1c1c" opacity="0.7"/>
<circle cx="78.6" cy="305.6" r="1.5" fill="#1c1c1c" opacity="0.7"/>
<circle cx="82.9" cy="286.3" r="2.3" fill="#1c1c1c" opacity="0.7"/>
<circle cx="84.6" cy="302.3" r="1.3" fill="#1c1c1c" opacity="0.7"/>
<circle cx="81.6" cy="290.6" r="1.5" fill="#1c1c1c" opacity="0.7"/>
<rect x="87.5" y="219.0" width="9.6" height="1.3" fill="#5a5a5a" opacity="0.06"/>
<circle cx="88.7" cy="219.7" r="1.6" fill="#555" opacity="0.32"/>
<circle cx="95.7" cy="219.0" r="0.9" fill="#555" opacity="0.27"/>
<rect x="87.5" y="226.5" width="9.6" height="2.8" fill="#5a5a5a" opacity="0.05"/>
<circle cx="96.9" cy="227.4" r="1.1" fill="#555" opacity="0.43"/>
<circle cx="89.2" cy="230.4" r="1.2" fill="#555" opacity="0.42"/>
<rect x="87.5" y="234.1" width="9.6" height="1.8" fill="#5a5a5a" opacity="0.16"/>
<circle cx="97.5" cy="236.5" r="0.9" fill="#555" opacity="0.49"/>
<circle cx="94.1" cy="236.1" r="1.5" fill="#555" opacity="0.33"/>
<rect x="87.5" y="239.6" width="9.6" height="2.2" fill="#5a5a5a" opacity="0.06"/>
<circle cx="93.2" cy="240.3" r="1.1" fill="#555" opacity="0.52"/>
<circle cx="93.2" cy="240.6" r="1.5" fill="#555" opacity="0.55"/>
<rect x="87.5" y="247.9" width="9.6" height="2.8" fill="#5a5a5a" opacity="0.10"/>
<circle cx="93.2" cy="250.3" r="0.9" fill="#555" opacity="0.46"/>
<circle cx="92.5" cy="250.0" r="1.5" fill="#555" opacity="0.27"/>
<rect x="87.5" y="254.1" width="9.6" height="3.2" fill="#5a5a5a" opacity="0.09"/>
<circle cx="89.7" cy="254.4" r="1.1" fill="#555" opacity="0.42"/>
<circle cx="87.4" cy="255.2" r="1.1" fill="#555" opacity="0.30"/>
<rect x="87.5" y="262.9" width="9.6" height="3.1" fill="#5a5a5a" opacity="0.19"/>
<circle cx="91.7" cy="263.2" r="1.1" fill="#555" opacity="0.41"/>
<circle cx="91.0" cy="265.8" r="1.5" fill="#555" opacity="0.52"/>
<rect x="87.5" y="270.4" width="9.6" height="1.7" fill="#5a5a5a" opacity="0.19"/>
<circle cx="96.4" cy="270.9" r="1.0" fill="#555" opacity="0.45"/>
<circle cx="95.7" cy="274.3" r="0.8" fill="#555" opacity="0.31"/>
<rect x="87.5" y="276.3" width="9.6" height="2.3" fill="#5a5a5a" opacity="0.17"/>
<circle cx="92.9" cy="278.4" r="1.0" fill="#555" opacity="0.45"/>
<circle cx="93.2" cy="280.1" r="1.0" fill="#555" opacity="0.29"/>
<rect x="87.3" y="283.0" width="10.0" height="1.9" fill="#1f1f1f" opacity="0.6"/>
<rect x="87.3" y="286.8" width="10.0" height="3.0" fill="#383838" opacity="0.6"/>
<rect x="87.3" y="290.7" width="10.0" height="1.9" fill="#272727" opacity="0.6"/>
<rect x="87.3" y="293.7" width="10.0" height="2.8" fill="#727272" opacity="0.45"/>
<rect x="87.3" y="297.6" width="10.0" height="2.3" fill="#393939" opacity="0.6"/>
<rect x="87.3" y="302.0" width="10.0" height="3.0" fill="#343434" opacity="0.6"/>
<rect x="87.3" y="306.4" width="10.0" height="2.2" fill="#1a1a1a" opacity="0.6"/>
<rect x="87.3" y="310.4" width="10.0" height="1.6" fill="#7f7f7f" opacity="0.45"/>
<circle cx="96.5" cy="293.1" r="1.0" fill="#1c1c1c" opacity="0.7"/>
<circle cx="89.3" cy="297.0" r="1.2" fill="#1c1c1c" opacity="0.7"/>
<circle cx="90.0" cy="303.7" r="1.5" fill="#1c1c1c" opacity="0.7"/>
<circle cx="90.6" cy="291.6" r="1.7" fill="#1c1c1c" opacity="0.7"/>
<circle cx="97.6" cy="290.1" r="2.1" fill="#1c1c1c" opacity="0.7"/>
<rect x="99.6" y="217.3" width="9.8" height="94.2" fill="#000" opacity="0.1"/>
<rect x="100.1" y="219.0" width="8.8" height="2.7" fill="#5a5a5a" opacity="0.24"/>
<circle cx="104.9" cy="221.1" r="0.9" fill="#555" opacity="0.42"/>
<circle cx="109.3" cy="221.9" r="1.3" fill="#555" opacity="0.38"/>
<rect x="100.1" y="227.7" width="8.8" height="1.2" fill="#5a5a5a" opacity="0.18"/>
<circle cx="109.0" cy="230.3" r="1.6" fill="#555" opacity="0.41"/>
<circle cx="100.0" cy="229.9" r="1.4" fill="#555" opacity="0.28"/>
<rect x="100.1" y="233.4" width="8.8" height="3.1" fill="#5a5a5a" opacity="0.16"/>
<circle cx="100.1" cy="233.8" r="1.5" fill="#555" opacity="0.52"/>
<circle cx="101.1" cy="236.7" r="1.0" fill="#555" opacity="0.41"/>
<rect x="100.1" y="242.0" width="8.8" height="1.4" fill="#5a5a5a" opacity="0.22"/>
<circle cx="108.1" cy="243.4" r="1.6" fill="#555" opacity="0.39"/>
<circle cx="108.8" cy="243.6" r="1.6" fill="#555" opacity="0.27"/>
<rect x="100.1" y="247.3" width="8.8" height="1.5" fill="#5a5a5a" opacity="0.21"/>
<circle cx="103.6" cy="248.3" r="1.2" fill="#555" opacity="0.45"/>
<circle cx="105.3" cy="248.3" r="1.5" fill="#555" opacity="0.46"/>
<rect x="100.1" y="253.0" width="8.8" height="2.1" fill="#5a5a5a" opacity="0.18"/>
<circle cx="107.8" cy="254.4" r="1.1" fill="#555" opacity="0.53"/>
<circle cx="102.6" cy="253.8" r="1.2" fill="#555" opacity="0.40"/>
<rect x="100.1" y="260.0" width="8.8" height="2.0" fill="#5a5a5a" opacity="0.25"/>
<circle cx="99.8" cy="263.8" r="1.3" fill="#555" opacity="0.38"/>
<circle cx="104.0" cy="261.2" r="1.6" fill="#555" opacity="0.39"/>
<rect x="100.1" y="264.9" width="8.8" height="1.9" fill="#5a5a5a" opacity="0.22"/>
<circle cx="103.1" cy="265.3" r="1.7" fill="#555" opacity="0.30"/>
<circle cx="106.7" cy="266.6" r="1.3" fill="#555" opacity="0.45"/>
<rect x="100.1" y="269.4" width="8.8" height="2.2" fill="#5a5a5a" opacity="0.22"/>
<circle cx="103.8" cy="269.4" r="0.8" fill="#555" opacity="0.40"/>
<circle cx="104.1" cy="270.7" r="0.9" fill="#555" opacity="0.36"/>
<rect x="100.1" y="276.8" width="8.8" height="2.8" fill="#5a5a5a" opacity="0.26"/>
<circle cx="99.6" cy="278.1" r="1.3" fill="#555" opacity="0.49"/>
<circle cx="105.1" cy="280.0" r="1.5" fill="#555" opacity="0.27"/>
<rect x="99.9" y="283.0" width="9.2" height="2.4" fill="#737373" opacity="0.45"/>
<rect x="99.9" y="287.6" width="9.2" height="3.4" fill="#2a2a2a" opacity="0.6"/>
<rect x="99.9" y="291.9" width="9.2" height="2.9" fill="#727272" opacity="0.45"/>
<rect x="99.9" y="296.8" width="9.2" height="2.4" fill="#898989" opacity="0.45"/>
<rect x="99.9" y="300.2" width="9.2" height="1.7" fill="#6a6a6a" opacity="0.45"/>
<rect x="99.9" y="302.9" width="9.2" height="3.2" fill="#737373" opacity="0.45"/>
<rect x="99.9" y="307.4" width="9.2" height="1.3" fill="#191919" opacity="0.6"/>
<rect x="99.9" y="310.4" width="9.2" height="2.5" fill="#363636" opacity="0.6"/>
<circle cx="105.5" cy="301.9" r="1.3" fill="#1c1c1c" opacity="0.7"/>
<circle cx="107.5" cy="295.9" r="1.6" fill="#1c1c1c" opacity="0.7"/>
<circle cx="100.8" cy="292.1" r="1.6" fill="#1c1c1c" opacity="0.7"/>
<circle cx="106.7" cy="297.0" r="1.7" fill="#1c1c1c" opacity="0.7"/>
<circle cx="107.0" cy="295.7" r="1.0" fill="#1c1c1c" opacity="0.7"/>
<rect x="111.9" y="219.0" width="9.9" height="2.3" fill="#5a5a5a" opacity="0.19"/>
<circle cx="111.8" cy="220.9" r="1.5" fill="#555" opacity="0.40"/>
<circle cx="112.5" cy="221.1" r="0.9" fill="#555" opacity="0.27"/>
<rect x="111.9" y="225.2" width="9.9" height="1.6" fill="#5a5a5a" opacity="0.13"/>
<circle cx="121.7" cy="226.0" r="1.8" fill="#555" opacity="0.35"/>
<circle cx="120.5" cy="227.3" r="1.6" fill="#555" opacity="0.51"/>
<rect x="111.9" y="232.6" width="9.9" height="1.5" fill="#5a5a5a" opacity="0.18"/>
<circle cx="112.7" cy="235.5" r="0.8" fill="#555" opacity="0.34"/>
<circle cx="112.8" cy="235.1" r="1.1" fill="#555" opacity="0.42"/>
<rect x="111.9" y="237.5" width="9.9" height="2.0" fill="#5a5a5a" opacity="0.19"/>
<circle cx="117.9" cy="239.4" r="1.5" fill="#555" opacity="0.55"/>
<circle cx="115.0" cy="237.9" r="1.0" fill="#555" opacity="0.30"/>
<rect x="111.9" y="243.6" width="9.9" height="2.7" fill="#5a5a5a" opacity="0.16"/>
<circle cx="112.6" cy="244.2" r="1.2" fill="#555" opacity="0.50"/>
<circle cx="116.7" cy="245.7" r="1.1" fill="#555" opacity="0.41"/>
<rect x="111.9" y="251.2" width="9.9" height="1.9" fill="#5a5a5a" opacity="0.14"/>
<circle cx="119.6" cy="252.6" r="1.3" fill="#555" opacity="0.29"/>
<circle cx="114.2" cy="251.4" r="0.9" fill="#555" opacity="0.28"/>
<rect x="111.9" y="259.2" width="9.9" height="2.7" fill="#5a5a5a" opacity="0.14"/>
<circle cx="120.1" cy="259.9" r="1.2" fill="#555" opacity="0.42"/>
<circle cx="120.7" cy="261.3" r="0.9" fill="#555" opacity="0.26"/>
<rect x="111.9" y="264.5" width="9.9" height="2.7" fill="#5a5a5a" opacity="0.18"/>
<circle cx="113.0" cy="267.7" r="0.8" fill="#555" opacity="0.50"/>
<circle cx="119.1" cy="266.4" r="1.3" fill="#555" opacity="0.32"/>
<rect x="111.9" y="273.4" width="9.9" height="1.7" fill="#5a5a5a" opacity="0.09"/>
<circle cx="119.8" cy="275.7" r="1.3" fill="#555" opacity="0.42"/>
<circle cx="112.6" cy="273.8" r="1.8" fill="#555" opacity="0.46"/>
<rect x="111.7" y="283.0" width="10.3" height="2.4" fill="#1e1e1e" opacity="0.6"/>
<rect x="111.7" y="287.1" width="10.3" height="1.2" fill="#252525" opacity="0.6"/>
<rect x="111.7" y="290.0" width="10.3" height="3.2" fill="#232323" opacity="0.6"/>
<rect x="111.7" y="295.5" width="10.3" height="1.9" fill="#292929" opacity="0.6"/>
<rect x="111.7" y="298.2" width="10.3" height="1.4" fill="#343434" opacity="0.6"/>
<rect x="111.7" y="301.0" width="10.3" height="2.7" fill="#2a2a2a" opacity="0.6"/>
<rect x="111.7" y="305.8" width="10.3" height="2.1" fill="#303030" opacity="0.6"/>
<rect x="111.7" y="308.7" width="10.3" height="2.3" fill="#272727" opacity="0.6"/>
<circle cx="120.5" cy="309.1" r="2.0" fill="#1c1c1c" opacity="0.7"/>
<circle cx="120.3" cy="308.5" r="1.5" fill="#1c1c1c" opacity="0.7"/>
<circle cx="115.1" cy="286.7" r="1.6" fill="#1c1c1c" opacity="0.7"/>
<circle cx="112.0" cy="291.1" r="1.5" fill="#1c1c1c" opacity="0.7"/>
<circle cx="115.9" cy="304.4" r="1.6" fill="#1c1c1c" opacity="0.7"/>
<rect x="124.3" y="217.3" width="10.3" height="94.2" fill="#000" opacity="0.1"/>
<rect x="124.8" y="219.0" width="9.3" height="2.6" fill="#5a5a5a" opacity="0.15"/>
<circle cx="131.7" cy="222.0" r="0.8" fill="#555" opacity="0.36"/>
<circle cx="130.9" cy="219.5" r="1.6" fill="#555" opacity="0.54"/>
<rect x="124.8" y="227.2" width="9.3" height="2.4" fill="#5a5a5a" opacity="0.27"/>
<circle cx="134.0" cy="231.1" r="1.1" fill="#555" opacity="0.44"/>
<circle cx="125.3" cy="230.9" r="0.9" fill="#555" opacity="0.34"/>
<rect x="124.8" y="234.5" width="9.3" height="1.6" fill="#5a5a5a" opacity="0.21"/>
<circle cx="127.9" cy="237.1" r="1.3" fill="#555" opacity="0.50"/>
<circle cx="130.7" cy="237.4" r="0.8" fill="#555" opacity="0.45"/>
<rect x="124.8" y="242.3" width="9.3" height="1.5" fill="#5a5a5a" opacity="0.27"/>
<circle cx="132.4" cy="242.6" r="1.4" fill="#555" opacity="0.34"/>
<circle cx="128.1" cy="246.2" r="1.4" fill="#555" opacity="0.39"/>
<rect x="124.8" y="249.4" width="9.3" height="2.0" fill="#5a5a5a" opacity="0.17"/>
<circle cx="134.4" cy="250.1" r="1.7" fill="#555" opacity="0.54"/>
<circle cx="129.1" cy="249.9" r="1.3" fill="#555" opacity="0.41"/>
<rect x="124.8" y="257.1" width="9.3" height="3.2" fill="#5a5a5a" opacity="0.19"/>
<circle cx="124.7" cy="261.0" r="0.8" fill="#555" opacity="0.54"/>
<circle cx="133.5" cy="260.7" r="1.2" fill="#555" opacity="0.31"/>
<rect x="124.8" y="265.1" width="9.3" height="2.1" fill="#5a5a5a" opacity="0.26"/>
<circle cx="126.3" cy="267.0" r="1.7" fill="#555" opacity="0.43"/>
<circle cx="133.9" cy="268.1" r="0.9" fill="#555" opacity="0.44"/>
<rect x="124.8" y="270.4" width="9.3" height="1.3" fill="#5a5a5a" opacity="0.24"/>
<circle cx="124.4" cy="270.7" r="1.2" fill="#555" opacity="0.30"/>
<circle cx="131.1" cy="271.6" r="1.0" fill="#555" opacity="0.42"/>
<rect x="124.8" y="276.4" width="9.3" height="2.9" fill="#5a5a5a" opacity="0.27"/>
<circle cx="133.9" cy="276.8" r="0.9" fill="#555" opacity="0.48"/>
<circle cx="128.4" cy="276.6" r="1.3" fill="#555" opacity="0.35"/>
<rect x="124.6" y="283.0" width="9.7" height="2.7" fill="#737373" opacity="0.45"/>
<rect x="124.6" y="287.5" width="9.7" height="1.7" fill="#787878" opacity="0.45"/>
<rect x="124.6" y="290.7" width="9.7" height="1.6" fill="#222222" opacity="0.6"/>
<rect x="124.6" y="294.2" width="9.7" height="1.5" fill="#272727" opacity="0.6"/>
<rect x="124.6" y="297.9" width="9.7" height="2.6" fill="#6e6e6e" opacity="0.45"/>
<rect x="124.6" y="301.5" width="9.7" height="2.5" fill="#6c6c6c" opacity="0.45"/>
<rect x="124.6" y="305.4" width="9.7" height="2.0" fill="#2e2e2e" opacity="0.6"/>
<rect x="124.6" y="308.9" width="9.7" height="2.3" fill="#818181" opacity="0.45"/>
<circle cx="134.2" cy="308.2" r="1.9" fill="#1c1c1c" opacity="0.7"/>
<circle cx="125.6" cy="301.2" r="1.0" fill="#1c1c1c" opacity="0.7"/>
<circle cx="127.2" cy="296.4" r="1.6" fill="#1c1c1c" opacity="0.7"/>
<circle cx="132.4" cy="299.4" r="1.8" fill="#1c1c1c" opacity="0.7"/>
<circle cx="128.9" cy="303.5" r="1.2" fill="#1c1c1c" opacity="0.7"/>
<rect x="99.60" y="218" width="9.80" height="50" fill="#333" opacity="0.25"/>
<rect x="100.10" y="220" width="8.80" height="4" fill="#1a1a1a" opacity="0.5"/>
<rect x="100.10" y="228.5" width="8.80" height="4.5" fill="#1a1a1a" opacity="0.8"/>
<rect x="100.10" y="235" width="8.80" height="4.5" fill="#1a1a1a" opacity="0.85"/>
<rect x="100.10" y="244.5" width="8.80" height="4.5" fill="#1a1a1a" opacity="0.75"/>
<rect x="100.10" y="252.5" width="8.80" height="3" fill="#1a1a1a" opacity="0.45"/>
<rect x="100.10" y="262" width="8.80" height="3" fill="#1a1a1a" opacity="0.3"/>
<rect x="124.30" y="218" width="10.30" height="42" fill="url(#gL6)"/>
<rect x="124.80" y="262" width="9.30" height="3" fill="#222" opacity="0.35"/>
<rect x="124.80" y="270" width="9.30" height="3" fill="#222" opacity="0.3"/>
</g>
<g filter="url(#bl1)">
<rect x="73.40" y="217.3" width="1.6" height="94.19999999999999" fill="url(#gD)"/>
<rect x="85.20" y="217.3" width="1.6" height="94.19999999999999" fill="url(#gD)"/>
<rect x="97.80" y="217.3" width="1.6" height="94.19999999999999" fill="url(#gD)"/>
<rect x="109.60" y="217.3" width="1.6" height="94.19999999999999" fill="url(#gD)"/>
<rect x="122.50" y="217.3" width="1.6" height="94.19999999999999" fill="url(#gD)"/>
<rect x="133.60" y="217.3" width="1.4" height="94.19999999999999" fill="url(#gD)" opacity="0.6"/>
</g>
<circle cx="89.5" cy="226.5" r="0.8" fill="#222" opacity="0.9"/>
<circle cx="88.5" cy="247.0" r="0.8" fill="#222" opacity="0.9"/>
<circle cx="81.0" cy="252.0" r="0.8" fill="#222" opacity="0.9"/>
<circle cx="70.0" cy="262.0" r="0.8" fill="#222" opacity="0.9"/>
<circle cx="124.0" cy="264.0" r="0.8" fill="#222" opacity="0.9"/>
<circle cx="104.0" cy="298.0" r="0.8" fill="#222" opacity="0.9"/>
<circle cx="67.0" cy="231.0" r="0.8" fill="#222" opacity="0.9"/>
<circle cx="60.5" cy="219.5" r="0.8" fill="#222" opacity="0.9"/>
<rect x="58.00" y="216.80" width="78.10" height="95.20" fill="none" stroke="#000" stroke-width="1.2"/>
<line x1="136.60" y1="253.80" x2="139.80" y2="253.80" stroke="#231f20" stroke-width="1.0"/>
<text x="143.50" y="256.79" font-size="8.7" textLength="12.40" lengthAdjust="spacingAndGlyphs" fill="#231f20">245</text>
<line x1="136.60" y1="265.80" x2="139.80" y2="265.80" stroke="#231f20" stroke-width="1.0"/>
<text x="143.50" y="268.79" font-size="8.7" textLength="12.40" lengthAdjust="spacingAndGlyphs" fill="#231f20">180</text>
<line x1="136.60" y1="275.30" x2="139.80" y2="275.30" stroke="#231f20" stroke-width="1.0"/>
<text x="143.50" y="278.29" font-size="8.7" textLength="12.40" lengthAdjust="spacingAndGlyphs" fill="#231f20">135</text>
<line x1="136.60" y1="286.10" x2="139.80" y2="286.10" stroke="#231f20" stroke-width="1.0"/>
<text x="143.50" y="289.09" font-size="8.7" textLength="12.40" lengthAdjust="spacingAndGlyphs" fill="#231f20">100</text>
<line x1="136.60" y1="296.70" x2="139.80" y2="296.70" stroke="#231f20" stroke-width="1.0"/>
<text x="143.50" y="299.69" font-size="8.7" textLength="8.30" lengthAdjust="spacingAndGlyphs" fill="#231f20">75</text>
<line x1="136.60" y1="309.30" x2="139.80" y2="309.30" stroke="#231f20" stroke-width="1.0"/>
<text x="143.50" y="312.29" font-size="8.7" textLength="8.30" lengthAdjust="spacingAndGlyphs" fill="#231f20">63</text>
<rect x="57.50" y="314.20" width="79.10" height="12.10" fill="#e8e8e8" stroke="none" stroke-width="1"/>
<g filter="url(#bl3)">
<rect x="58.49" y="317.4" width="11.2" height="7" rx="1.2" fill="#1a1a1a"/>
<rect x="58.89" y="320.3" width="10.4" height="0.9" fill="#5a5a5a"/>
<rect x="71.68" y="317.4" width="11.2" height="7" rx="1.2" fill="#1a1a1a"/>
<rect x="72.08" y="320.3" width="10.4" height="0.9" fill="#5a5a5a"/>
<rect x="84.86" y="317.4" width="11.2" height="7" rx="1.2" fill="#1a1a1a"/>
<rect x="85.26" y="320.3" width="10.4" height="0.9" fill="#5a5a5a"/>
<rect x="98.04" y="317.4" width="11.2" height="7" rx="1.2" fill="#1a1a1a"/>
<rect x="98.44" y="320.3" width="10.4" height="0.9" fill="#5a5a5a"/>
<rect x="111.22" y="317.4" width="11.2" height="7" rx="1.2" fill="#1a1a1a"/>
<rect x="111.62" y="320.3" width="10.4" height="0.9" fill="#5a5a5a"/>
<rect x="124.41" y="317.4" width="11.2" height="7" rx="1.2" fill="#1a1a1a"/>
<rect x="124.81" y="320.3" width="10.4" height="0.9" fill="#5a5a5a"/>
</g>
<rect x="58.10" y="314.80" width="77.90" height="10.90" fill="none" stroke="#000" stroke-width="1.2"/>
<line x1="136.60" y1="319.10" x2="139.80" y2="319.10" stroke="#231f20" stroke-width="1.0"/>
<text x="143.50" y="322.09" font-size="8.7" textLength="8.30" lengthAdjust="spacingAndGlyphs" fill="#231f20">48</text>
<rect x="57.50" y="328.40" width="79.10" height="11.40" fill="#f2f2f2" stroke="none" stroke-width="1"/>
<g filter="url(#bl3)">
<rect x="85.46" y="333.9" width="10" height="1.9" rx="0.8" fill="#7d7d7d"/>
<rect x="98.64" y="333.9" width="10" height="1.9" rx="0.8" fill="#1e1e1e"/>
<rect x="111.82" y="333.9" width="10" height="1.9" rx="0.8" fill="#3e3e3e"/>
<rect x="125.01" y="333.9" width="10" height="1.9" rx="0.8" fill="#1e1e1e"/>
</g>
<rect x="58.10" y="329.00" width="77.90" height="10.20" fill="none" stroke="#000" stroke-width="1.2"/>
<line x1="136.60" y1="336.60" x2="139.80" y2="336.60" stroke="#231f20" stroke-width="1.0"/>
<text x="143.50" y="339.59" font-size="8.7" textLength="12.40" lengthAdjust="spacingAndGlyphs" fill="#231f20">100</text>
<rect x="57.50" y="341.30" width="79.10" height="12.30" fill="#e8e8e8" stroke="none" stroke-width="1"/>
<g filter="url(#bl3)">
<rect x="58.29" y="344.0" width="11.6" height="8.2" rx="1.5" fill="#161616"/>
<rect x="71.48" y="344.0" width="11.6" height="8.2" rx="1.5" fill="#161616"/>
<rect x="84.66" y="344.0" width="11.6" height="8.2" rx="1.5" fill="#161616"/>
<rect x="97.84" y="344.0" width="11.6" height="8.2" rx="1.5" fill="#161616"/>
<rect x="111.02" y="344.0" width="11.6" height="8.2" rx="1.5" fill="#161616"/>
<rect x="124.21" y="344.0" width="11.6" height="8.2" rx="1.5" fill="#161616"/>
</g>
<rect x="58.10" y="341.90" width="77.90" height="11.10" fill="none" stroke="#000" stroke-width="1.2"/>
<line x1="136.60" y1="347.40" x2="139.80" y2="347.40" stroke="#231f20" stroke-width="1.0"/>
<text x="143.50" y="350.39" font-size="8.7" textLength="8.30" lengthAdjust="spacingAndGlyphs" fill="#231f20">48</text>
<text x="54.10" y="323.39" font-size="8.7" text-anchor="end" textLength="30.20" lengthAdjust="spacingAndGlyphs" fill="#231f20">&#945;-NEMO</text>
<text x="54.10" y="337.09" font-size="8.7" text-anchor="end" textLength="25.10" lengthAdjust="spacingAndGlyphs" fill="#231f20">&#945;-HOIP</text>
<text x="54.10" y="350.19" font-size="8.7" text-anchor="end" textLength="30.20" lengthAdjust="spacingAndGlyphs" fill="#231f20">&#945;-NEMO</text>
<line x1="20.30" y1="217.40" x2="20.30" y2="324.90" stroke="#333" stroke-width="1.1"/>
<line x1="20.30" y1="327.80" x2="20.30" y2="352.70" stroke="#333" stroke-width="1.1"/>
<text transform="translate(15.30,264.85) rotate(-90)" x="0" y="0" font-size="8.4" text-anchor="middle" textLength="40.50" lengthAdjust="spacingAndGlyphs" fill="#231f20">IP: &#945;-NEMO</text>
<text transform="translate(51.80,264.90) rotate(-90)" x="0" y="0" font-size="8.4" text-anchor="middle" textLength="37.80" lengthAdjust="spacingAndGlyphs" fill="#231f20">&#945;-linear Ub</text>
<text transform="translate(14.40,340.20) rotate(-90)" x="0" y="0" font-size="8.4" text-anchor="middle" textLength="17.10" lengthAdjust="spacingAndGlyphs" fill="#231f20">Input</text>
<text x="78.40" y="364.09" font-size="8.7" textLength="37.60" lengthAdjust="spacingAndGlyphs" fill="#231f20">Jurkat cells</text>
<path d="M285.2 281.9h1.3v1.3h-1.3zM290.2 265.3h1.3v1.3h-1.3zM280.7 279.5h1.3v1.3h-1.3zM270.5 292.1h1.3v1.3h-1.3zM277.7 258.6h1.3v1.3h-1.3zM268.8 267.0h1.3v1.3h-1.3zM286.2 264.0h1.3v1.3h-1.3zM307.4 272.6h1.3v1.3h-1.3zM277.1 258.8h1.3v1.3h-1.3zM275.0 275.2h1.3v1.3h-1.3zM293.3 255.2h1.3v1.3h-1.3zM291.1 280.9h1.3v1.3h-1.3zM287.0 280.9h1.3v1.3h-1.3zM269.8 270.4h1.3v1.3h-1.3zM284.7 279.3h1.3v1.3h-1.3zM296.7 259.9h1.3v1.3h-1.3zM263.0 270.9h1.3v1.3h-1.3zM277.7 283.3h1.3v1.3h-1.3zM253.8 274.9h1.3v1.3h-1.3zM263.9 278.5h1.3v1.3h-1.3zM254.8 264.1h1.3v1.3h-1.3zM281.3 279.0h1.3v1.3h-1.3zM264.3 279.5h1.3v1.3h-1.3zM289.7 254.3h1.3v1.3h-1.3zM287.8 241.7h1.3v1.3h-1.3zM282.1 245.7h1.3v1.3h-1.3zM243.6 276.7h1.3v1.3h-1.3zM276.3 269.2h1.3v1.3h-1.3zM284.4 251.2h1.3v1.3h-1.3zM287.1 271.6h1.3v1.3h-1.3zM259.9 287.0h1.3v1.3h-1.3zM277.3 270.3h1.3v1.3h-1.3zM269.0 267.5h1.3v1.3h-1.3zM271.8 283.1h1.3v1.3h-1.3zM302.8 288.1h1.3v1.3h-1.3zM271.9 290.8h1.3v1.3h-1.3zM284.7 262.1h1.3v1.3h-1.3zM299.9 277.4h1.3v1.3h-1.3zM275.6 273.8h1.3v1.3h-1.3zM283.4 268.0h1.3v1.3h-1.3zM287.0 262.3h1.3v1.3h-1.3zM286.3 274.4h1.3v1.3h-1.3zM265.0 267.6h1.3v1.3h-1.3zM286.5 281.4h1.3v1.3h-1.3zM307.7 271.1h1.3v1.3h-1.3zM259.6 287.7h1.3v1.3h-1.3zM299.4 253.7h1.3v1.3h-1.3zM287.2 270.4h1.3v1.3h-1.3zM274.6 281.5h1.3v1.3h-1.3zM318.3 269.1h1.3v1.3h-1.3zM297.8 271.0h1.3v1.3h-1.3zM265.4 265.0h1.3v1.3h-1.3zM286.5 290.3h1.3v1.3h-1.3zM294.8 281.8h1.3v1.3h-1.3zM282.1 275.7h1.3v1.3h-1.3zM296.5 236.5h1.3v1.3h-1.3zM284.1 258.5h1.3v1.3h-1.3zM296.3 269.9h1.3v1.3h-1.3zM309.0 257.3h1.3v1.3h-1.3zM274.0 246.4h1.3v1.3h-1.3zM288.6 272.7h1.3v1.3h-1.3zM277.6 276.3h1.3v1.3h-1.3zM287.3 254.7h1.3v1.3h-1.3zM265.6 267.5h1.3v1.3h-1.3zM275.6 263.6h1.3v1.3h-1.3zM282.0 277.3h1.3v1.3h-1.3zM300.1 243.6h1.3v1.3h-1.3zM304.2 245.6h1.3v1.3h-1.3zM263.3 267.0h1.3v1.3h-1.3zM272.1 264.0h1.3v1.3h-1.3zM295.9 294.1h1.3v1.3h-1.3zM252.3 268.0h1.3v1.3h-1.3zM277.6 274.1h1.3v1.3h-1.3zM283.6 265.2h1.3v1.3h-1.3zM306.0 258.2h1.3v1.3h-1.3zM296.6 272.7h1.3v1.3h-1.3zM279.8 292.6h1.3v1.3h-1.3zM279.1 266.8h1.3v1.3h-1.3zM281.1 280.4h1.3v1.3h-1.3zM310.4 270.2h1.3v1.3h-1.3zM278.1 279.2h1.3v1.3h-1.3zM280.2 275.6h1.3v1.3h-1.3zM291.1 298.5h1.3v1.3h-1.3zM283.2 255.4h1.3v1.3h-1.3zM282.0 267.7h1.3v1.3h-1.3zM266.8 259.5h1.3v1.3h-1.3zM285.0 245.4h1.3v1.3h-1.3zM277.9 271.4h1.3v1.3h-1.3zM304.5 289.8h1.3v1.3h-1.3zM296.0 279.8h1.3v1.3h-1.3zM284.8 285.7h1.3v1.3h-1.3zM296.3 274.8h1.3v1.3h-1.3zM279.6 270.3h1.3v1.3h-1.3zM302.6 292.6h1.3v1.3h-1.3zM285.1 266.1h1.3v1.3h-1.3zM294.9 287.8h1.3v1.3h-1.3zM263.9 270.3h1.3v1.3h-1.3zM291.0 270.8h1.3v1.3h-1.3zM257.3 279.1h1.3v1.3h-1.3zM251.5 277.1h1.3v1.3h-1.3zM280.2 278.1h1.3v1.3h-1.3zM270.3 280.7h1.3v1.3h-1.3zM287.9 291.1h1.3v1.3h-1.3zM322.4 264.4h1.3v1.3h-1.3zM271.5 249.5h1.3v1.3h-1.3zM274.9 247.2h1.3v1.3h-1.3zM288.6 253.1h1.3v1.3h-1.3zM293.4 260.1h1.3v1.3h-1.3zM282.3 279.4h1.3v1.3h-1.3zM281.8 252.8h1.3v1.3h-1.3zM296.8 269.1h1.3v1.3h-1.3zM293.8 269.8h1.3v1.3h-1.3zM268.1 277.0h1.3v1.3h-1.3zM283.9 269.4h1.3v1.3h-1.3zM285.8 275.8h1.3v1.3h-1.3zM267.8 274.4h1.3v1.3h-1.3zM289.5 283.3h1.3v1.3h-1.3zM271.0 277.5h1.3v1.3h-1.3zM301.3 238.9h1.3v1.3h-1.3zM288.4 270.7h1.3v1.3h-1.3zM286.7 273.1h1.3v1.3h-1.3zM275.4 265.3h1.3v1.3h-1.3zM283.3 261.8h1.3v1.3h-1.3zM252.2 290.1h1.3v1.3h-1.3zM266.5 276.2h1.3v1.3h-1.3zM291.2 257.8h1.3v1.3h-1.3zM250.0 273.0h1.3v1.3h-1.3zM299.2 266.4h1.3v1.3h-1.3zM256.3 255.7h1.3v1.3h-1.3zM297.7 276.8h1.3v1.3h-1.3zM271.2 271.7h1.3v1.3h-1.3zM298.1 274.7h1.3v1.3h-1.3zM287.4 251.2h1.3v1.3h-1.3zM259.8 299.4h1.3v1.3h-1.3zM305.9 275.3h1.3v1.3h-1.3zM309.1 273.0h1.3v1.3h-1.3zM284.1 262.2h1.3v1.3h-1.3zM280.7 263.5h1.3v1.3h-1.3zM282.6 253.2h1.3v1.3h-1.3zM269.1 293.0h1.3v1.3h-1.3zM303.4 257.8h1.3v1.3h-1.3zM276.2 275.6h1.3v1.3h-1.3zM284.4 278.9h1.3v1.3h-1.3zM272.1 265.8h1.3v1.3h-1.3zM274.9 283.8h1.3v1.3h-1.3zM264.1 300.2h1.3v1.3h-1.3zM306.0 271.5h1.3v1.3h-1.3zM282.7 289.7h1.3v1.3h-1.3zM301.2 275.8h1.3v1.3h-1.3zM285.4 265.7h1.3v1.3h-1.3zM273.7 268.4h1.3v1.3h-1.3zM279.8 251.3h1.3v1.3h-1.3zM276.0 274.5h1.3v1.3h-1.3zM285.4 289.7h1.3v1.3h-1.3zM279.0 281.0h1.3v1.3h-1.3zM280.3 282.8h1.3v1.3h-1.3zM262.4 289.7h1.3v1.3h-1.3zM271.9 267.2h1.3v1.3h-1.3zM312.6 273.8h1.3v1.3h-1.3zM274.1 297.2h1.3v1.3h-1.3zM267.8 264.6h1.3v1.3h-1.3zM290.8 270.8h1.3v1.3h-1.3zM308.5 261.9h1.3v1.3h-1.3zM261.2 273.2h1.3v1.3h-1.3zM281.8 263.0h1.3v1.3h-1.3zM274.8 271.7h1.3v1.3h-1.3zM256.1 259.8h1.3v1.3h-1.3zM297.4 262.9h1.3v1.3h-1.3zM284.8 265.5h1.3v1.3h-1.3zM286.4 265.0h1.3v1.3h-1.3zM272.8 290.9h1.3v1.3h-1.3zM292.7 271.2h1.3v1.3h-1.3zM276.3 275.2h1.3v1.3h-1.3zM282.9 268.2h1.3v1.3h-1.3zM266.9 290.7h1.3v1.3h-1.3zM265.1 253.2h1.3v1.3h-1.3zM307.3 265.3h1.3v1.3h-1.3zM276.8 287.1h1.3v1.3h-1.3zM290.0 291.1h1.3v1.3h-1.3zM284.7 274.0h1.3v1.3h-1.3zM277.9 272.8h1.3v1.3h-1.3zM276.8 280.9h1.3v1.3h-1.3zM295.6 267.4h1.3v1.3h-1.3zM280.2 279.3h1.3v1.3h-1.3zM282.7 263.9h1.3v1.3h-1.3zM285.6 279.5h1.3v1.3h-1.3zM304.7 267.5h1.3v1.3h-1.3zM296.5 256.1h1.3v1.3h-1.3zM291.6 236.9h1.3v1.3h-1.3zM275.9 284.7h1.3v1.3h-1.3zM262.4 280.2h1.3v1.3h-1.3zM300.9 278.3h1.3v1.3h-1.3zM301.2 257.7h1.3v1.3h-1.3zM282.9 285.3h1.3v1.3h-1.3zM294.2 274.9h1.3v1.3h-1.3zM298.2 268.5h1.3v1.3h-1.3zM299.0 280.4h1.3v1.3h-1.3zM300.5 279.8h1.3v1.3h-1.3zM277.7 277.7h1.3v1.3h-1.3zM310.3 292.6h1.3v1.3h-1.3zM264.6 292.2h1.3v1.3h-1.3zM299.5 273.1h1.3v1.3h-1.3zM293.4 267.1h1.3v1.3h-1.3zM299.7 270.2h1.3v1.3h-1.3zM316.3 287.4h1.3v1.3h-1.3zM309.8 272.0h1.3v1.3h-1.3zM266.3 263.6h1.3v1.3h-1.3zM257.3 268.2h1.3v1.3h-1.3zM298.7 269.0h1.3v1.3h-1.3zM268.4 284.5h1.3v1.3h-1.3zM285.0 262.5h1.3v1.3h-1.3zM299.1 275.3h1.3v1.3h-1.3zM258.0 289.8h1.3v1.3h-1.3zM250.3 286.5h1.3v1.3h-1.3zM289.5 251.4h1.3v1.3h-1.3zM286.0 267.5h1.3v1.3h-1.3zM281.2 256.5h1.3v1.3h-1.3zM285.9 276.3h1.3v1.3h-1.3zM271.0 261.0h1.3v1.3h-1.3zM260.2 282.3h1.3v1.3h-1.3zM282.5 272.8h1.3v1.3h-1.3zM269.1 241.8h1.3v1.3h-1.3zM258.0 265.4h1.3v1.3h-1.3zM293.6 275.3h1.3v1.3h-1.3zM284.2 271.6h1.3v1.3h-1.3zM291.9 265.1h1.3v1.3h-1.3zM268.9 257.9h1.3v1.3h-1.3zM274.3 278.4h1.3v1.3h-1.3zM268.7 295.2h1.3v1.3h-1.3zM270.6 276.4h1.3v1.3h-1.3zM288.5 269.6h1.3v1.3h-1.3zM272.3 271.2h1.3v1.3h-1.3zM291.1 252.8h1.3v1.3h-1.3zM290.8 265.4h1.3v1.3h-1.3zM318.7 254.4h1.3v1.3h-1.3zM262.2 288.2h1.3v1.3h-1.3zM299.9 256.9h1.3v1.3h-1.3zM283.7 244.2h1.3v1.3h-1.3zM285.0 260.7h1.3v1.3h-1.3zM261.2 271.3h1.3v1.3h-1.3zM277.6 269.7h1.3v1.3h-1.3zM297.5 245.7h1.3v1.3h-1.3zM283.9 282.3h1.3v1.3h-1.3zM286.6 271.6h1.3v1.3h-1.3zM280.4 265.4h1.3v1.3h-1.3zM304.3 257.7h1.3v1.3h-1.3zM284.9 276.0h1.3v1.3h-1.3zM248.8 272.8h1.3v1.3h-1.3zM273.8 275.9h1.3v1.3h-1.3zM252.7 274.5h1.3v1.3h-1.3zM276.5 286.3h1.3v1.3h-1.3zM307.3 266.9h1.3v1.3h-1.3zM286.0 259.2h1.3v1.3h-1.3zM265.8 285.9h1.3v1.3h-1.3zM269.7 276.1h1.3v1.3h-1.3zM303.9 258.8h1.3v1.3h-1.3zM287.8 283.4h1.3v1.3h-1.3zM286.0 267.9h1.3v1.3h-1.3zM284.3 283.9h1.3v1.3h-1.3zM285.9 256.0h1.3v1.3h-1.3zM298.5 238.9h1.3v1.3h-1.3zM294.4 243.3h1.3v1.3h-1.3zM288.8 272.5h1.3v1.3h-1.3zM268.0 264.0h1.3v1.3h-1.3zM293.7 267.4h1.3v1.3h-1.3zM273.9 271.0h1.3v1.3h-1.3zM303.3 247.8h1.3v1.3h-1.3zM264.2 290.6h1.3v1.3h-1.3zM282.9 257.5h1.3v1.3h-1.3zM285.1 271.0h1.3v1.3h-1.3zM263.3 256.4h1.3v1.3h-1.3zM313.7 263.1h1.3v1.3h-1.3zM309.4 274.7h1.3v1.3h-1.3zM277.6 268.2h1.3v1.3h-1.3zM298.0 258.9h1.3v1.3h-1.3zM291.5 268.9h1.3v1.3h-1.3zM242.0 271.7h1.3v1.3h-1.3zM289.4 276.2h1.3v1.3h-1.3zM284.2 297.5h1.3v1.3h-1.3zM286.6 258.8h1.3v1.3h-1.3zM267.4 264.6h1.3v1.3h-1.3zM280.8 269.3h1.3v1.3h-1.3zM282.3 270.0h1.3v1.3h-1.3zM304.9 253.9h1.3v1.3h-1.3zM290.8 275.2h1.3v1.3h-1.3zM285.1 279.3h1.3v1.3h-1.3zM310.5 268.4h1.3v1.3h-1.3zM276.0 257.0h1.3v1.3h-1.3zM278.8 289.0h1.3v1.3h-1.3zM255.2 260.5h1.3v1.3h-1.3zM311.2 274.0h1.3v1.3h-1.3zM301.2 281.5h1.3v1.3h-1.3zM300.4 251.9h1.3v1.3h-1.3zM296.3 269.7h1.3v1.3h-1.3zM287.0 286.5h1.3v1.3h-1.3zM288.8 274.3h1.3v1.3h-1.3zM281.1 259.4h1.3v1.3h-1.3zM281.9 255.9h1.3v1.3h-1.3zM286.1 275.6h1.3v1.3h-1.3zM310.2 261.0h1.3v1.3h-1.3zM294.4 259.8h1.3v1.3h-1.3zM284.3 278.7h1.3v1.3h-1.3zM275.6 267.6h1.3v1.3h-1.3zM274.7 272.6h1.3v1.3h-1.3zM311.7 272.6h1.3v1.3h-1.3zM293.6 275.1h1.3v1.3h-1.3zM286.3 269.3h1.3v1.3h-1.3zM279.5 271.0h1.3v1.3h-1.3zM266.9 280.7h1.3v1.3h-1.3zM284.1 275.9h1.3v1.3h-1.3zM299.7 253.9h1.3v1.3h-1.3zM278.7 268.8h1.3v1.3h-1.3zM281.5 259.9h1.3v1.3h-1.3zM281.6 255.9h1.3v1.3h-1.3zM287.0 262.6h1.3v1.3h-1.3zM258.9 246.3h1.3v1.3h-1.3zM281.3 281.5h1.3v1.3h-1.3zM271.1 262.6h1.3v1.3h-1.3zM299.9 271.9h1.3v1.3h-1.3zM272.5 249.2h1.3v1.3h-1.3zM294.8 247.3h1.3v1.3h-1.3zM310.4 290.7h1.3v1.3h-1.3zM280.0 283.5h1.3v1.3h-1.3zM275.3 263.7h1.3v1.3h-1.3zM288.4 259.9h1.3v1.3h-1.3zM285.2 261.1h1.3v1.3h-1.3zM268.8 274.1h1.3v1.3h-1.3zM292.8 263.3h1.3v1.3h-1.3zM318.6 256.4h1.3v1.3h-1.3zM281.0 272.1h1.3v1.3h-1.3zM281.9 258.0h1.3v1.3h-1.3zM267.9 301.8h1.3v1.3h-1.3zM290.5 261.5h1.3v1.3h-1.3zM264.6 287.0h1.3v1.3h-1.3zM266.9 261.4h1.3v1.3h-1.3zM306.4 269.6h1.3v1.3h-1.3zM270.2 284.2h1.3v1.3h-1.3zM303.1 262.6h1.3v1.3h-1.3zM310.4 277.5h1.3v1.3h-1.3zM289.5 281.2h1.3v1.3h-1.3zM294.4 288.6h1.3v1.3h-1.3zM317.5 265.2h1.3v1.3h-1.3zM282.0 264.7h1.3v1.3h-1.3zM275.4 259.2h1.3v1.3h-1.3zM262.8 276.0h1.3v1.3h-1.3zM285.9 257.0h1.3v1.3h-1.3zM309.7 265.9h1.3v1.3h-1.3zM301.1 268.8h1.3v1.3h-1.3zM269.6 265.8h1.3v1.3h-1.3zM271.1 259.5h1.3v1.3h-1.3zM276.9 276.1h1.3v1.3h-1.3zM290.1 272.6h1.3v1.3h-1.3zM281.8 273.0h1.3v1.3h-1.3zM288.8 268.7h1.3v1.3h-1.3zM290.1 280.9h1.3v1.3h-1.3zM280.3 258.3h1.3v1.3h-1.3zM284.6 275.5h1.3v1.3h-1.3zM288.6 264.0h1.3v1.3h-1.3zM283.8 281.0h1.3v1.3h-1.3zM293.6 264.4h1.3v1.3h-1.3zM316.2 260.1h1.3v1.3h-1.3zM295.0 274.0h1.3v1.3h-1.3zM286.1 244.7h1.3v1.3h-1.3zM257.3 270.5h1.3v1.3h-1.3zM291.6 246.9h1.3v1.3h-1.3zM253.0 263.8h1.3v1.3h-1.3zM261.9 282.7h1.3v1.3h-1.3zM299.4 272.8h1.3v1.3h-1.3zM296.9 262.9h1.3v1.3h-1.3zM282.7 270.0h1.3v1.3h-1.3zM256.9 274.6h1.3v1.3h-1.3zM279.1 275.0h1.3v1.3h-1.3zM274.0 295.1h1.3v1.3h-1.3zM295.8 271.4h1.3v1.3h-1.3zM322.6 291.9h1.3v1.3h-1.3zM288.8 265.1h1.3v1.3h-1.3zM272.3 281.8h1.3v1.3h-1.3zM265.9 282.7h1.3v1.3h-1.3zM284.3 273.3h1.3v1.3h-1.3zM282.3 267.4h1.3v1.3h-1.3zM266.2 291.7h1.3v1.3h-1.3zM287.1 292.1h1.3v1.3h-1.3zM266.2 287.1h1.3v1.3h-1.3zM303.6 293.0h1.3v1.3h-1.3zM302.8 279.6h1.3v1.3h-1.3zM303.2 247.2h1.3v1.3h-1.3zM277.4 285.1h1.3v1.3h-1.3zM293.7 260.7h1.3v1.3h-1.3zM283.0 288.1h1.3v1.3h-1.3zM278.8 267.7h1.3v1.3h-1.3zM279.6 275.4h1.3v1.3h-1.3zM263.7 274.8h1.3v1.3h-1.3zM261.3 267.3h1.3v1.3h-1.3zM298.4 246.0h1.3v1.3h-1.3zM282.1 268.5h1.3v1.3h-1.3zM288.8 268.2h1.3v1.3h-1.3zM301.8 279.8h1.3v1.3h-1.3zM256.5 268.0h1.3v1.3h-1.3zM272.2 275.7h1.3v1.3h-1.3zM288.1 259.4h1.3v1.3h-1.3zM291.7 269.8h1.3v1.3h-1.3zM279.0 249.5h1.3v1.3h-1.3zM302.2 292.5h1.3v1.3h-1.3zM288.7 273.5h1.3v1.3h-1.3zM265.1 262.7h1.3v1.3h-1.3zM269.8 277.4h1.3v1.3h-1.3zM298.5 278.1h1.3v1.3h-1.3zM292.9 272.4h1.3v1.3h-1.3zM253.8 293.2h1.3v1.3h-1.3zM307.5 265.0h1.3v1.3h-1.3zM295.1 237.9h1.3v1.3h-1.3zM307.4 252.1h1.3v1.3h-1.3zM278.9 285.5h1.3v1.3h-1.3zM280.3 282.2h1.3v1.3h-1.3zM266.6 278.7h1.3v1.3h-1.3zM327.2 250.5h1.3v1.3h-1.3zM282.3 281.2h1.3v1.3h-1.3zM311.5 274.6h1.3v1.3h-1.3zM274.5 261.1h1.3v1.3h-1.3zM287.9 259.0h1.3v1.3h-1.3zM257.6 279.8h1.3v1.3h-1.3zM278.9 285.6h1.3v1.3h-1.3zM301.5 287.1h1.3v1.3h-1.3zM264.5 282.8h1.3v1.3h-1.3zM303.0 295.5h1.3v1.3h-1.3zM290.8 260.0h1.3v1.3h-1.3zM268.0 281.3h1.3v1.3h-1.3zM276.9 265.7h1.3v1.3h-1.3zM277.6 248.1h1.3v1.3h-1.3zM284.4 255.7h1.3v1.3h-1.3zM276.4 286.4h1.3v1.3h-1.3zM271.5 261.8h1.3v1.3h-1.3zM280.2 256.6h1.3v1.3h-1.3zM268.2 282.7h1.3v1.3h-1.3zM263.9 286.1h1.3v1.3h-1.3zM284.4 271.9h1.3v1.3h-1.3zM299.8 288.1h1.3v1.3h-1.3zM259.9 256.2h1.3v1.3h-1.3zM285.3 300.7h1.3v1.3h-1.3zM274.5 286.2h1.3v1.3h-1.3zM269.1 276.6h1.3v1.3h-1.3zM299.3 270.8h1.3v1.3h-1.3zM276.6 269.8h1.3v1.3h-1.3zM310.0 262.7h1.3v1.3h-1.3zM272.3 275.3h1.3v1.3h-1.3zM291.6 254.9h1.3v1.3h-1.3zM281.5 298.0h1.3v1.3h-1.3zM272.7 272.5h1.3v1.3h-1.3zM294.9 277.7h1.3v1.3h-1.3zM282.7 269.1h1.3v1.3h-1.3zM295.2 265.9h1.3v1.3h-1.3zM284.4 282.0h1.3v1.3h-1.3zM267.3 281.6h1.3v1.3h-1.3zM283.5 260.7h1.3v1.3h-1.3zM286.1 265.8h1.3v1.3h-1.3zM301.1 276.2h1.3v1.3h-1.3zM270.2 247.2h1.3v1.3h-1.3zM284.6 241.4h1.3v1.3h-1.3zM256.7 293.7h1.3v1.3h-1.3zM296.0 264.7h1.3v1.3h-1.3zM267.3 241.8h1.3v1.3h-1.3zM255.3 265.6h1.3v1.3h-1.3zM284.2 267.8h1.3v1.3h-1.3zM303.5 269.9h1.3v1.3h-1.3zM260.0 281.5h1.3v1.3h-1.3zM267.2 276.2h1.3v1.3h-1.3zM272.9 279.4h1.3v1.3h-1.3zM266.5 264.2h1.3v1.3h-1.3zM291.5 274.3h1.3v1.3h-1.3zM271.9 278.2h1.3v1.3h-1.3zM273.3 287.6h1.3v1.3h-1.3zM294.9 269.3h1.3v1.3h-1.3zM272.7 283.8h1.3v1.3h-1.3zM292.4 271.4h1.3v1.3h-1.3zM269.2 260.0h1.3v1.3h-1.3zM265.2 269.2h1.3v1.3h-1.3zM254.9 269.2h1.3v1.3h-1.3zM316.0 260.6h1.3v1.3h-1.3zM279.9 270.5h1.3v1.3h-1.3zM289.3 271.3h1.3v1.3h-1.3zM284.7 274.3h1.3v1.3h-1.3zM287.9 260.4h1.3v1.3h-1.3zM286.0 283.9h1.3v1.3h-1.3zM316.8 248.0h1.3v1.3h-1.3zM268.0 272.9h1.3v1.3h-1.3zM259.5 284.3h1.3v1.3h-1.3zM268.5 279.4h1.3v1.3h-1.3zM263.1 282.7h1.3v1.3h-1.3zM297.6 266.2h1.3v1.3h-1.3zM298.8 277.1h1.3v1.3h-1.3zM269.3 258.7h1.3v1.3h-1.3zM262.2 284.2h1.3v1.3h-1.3zM279.4 300.0h1.3v1.3h-1.3zM308.2 275.6h1.3v1.3h-1.3zM238.6 303.7h1.3v1.3h-1.3zM293.9 269.4h1.3v1.3h-1.3zM267.4 260.1h1.3v1.3h-1.3zM302.4 259.3h1.3v1.3h-1.3zM267.4 290.3h1.3v1.3h-1.3zM280.5 280.8h1.3v1.3h-1.3zM260.3 252.2h1.3v1.3h-1.3zM269.1 269.1h1.3v1.3h-1.3zM308.1 266.4h1.3v1.3h-1.3zM298.8 254.7h1.3v1.3h-1.3zM278.6 240.6h1.3v1.3h-1.3zM270.8 256.5h1.3v1.3h-1.3zM253.9 274.0h1.3v1.3h-1.3zM278.7 267.0h1.3v1.3h-1.3zM284.7 262.7h1.3v1.3h-1.3zM283.8 278.3h1.3v1.3h-1.3zM283.7 284.0h1.3v1.3h-1.3zM266.7 272.9h1.3v1.3h-1.3zM284.1 282.5h1.3v1.3h-1.3zM284.6 271.3h1.3v1.3h-1.3zM306.6 265.5h1.3v1.3h-1.3zM283.0 281.5h1.3v1.3h-1.3zM272.5 274.1h1.3v1.3h-1.3zM284.1 272.6h1.3v1.3h-1.3zM275.2 266.6h1.3v1.3h-1.3zM272.9 259.3h1.3v1.3h-1.3zM284.3 276.7h1.3v1.3h-1.3zM268.0 283.7h1.3v1.3h-1.3zM295.2 289.3h1.3v1.3h-1.3zM283.5 282.4h1.3v1.3h-1.3zM289.4 262.9h1.3v1.3h-1.3zM282.2 270.3h1.3v1.3h-1.3zM273.2 285.3h1.3v1.3h-1.3zM269.5 277.8h1.3v1.3h-1.3zM281.3 270.7h1.3v1.3h-1.3zM276.1 265.6h1.3v1.3h-1.3zM289.1 277.2h1.3v1.3h-1.3zM285.1 273.6h1.3v1.3h-1.3zM262.7 297.2h1.3v1.3h-1.3zM286.3 284.7h1.3v1.3h-1.3zM263.0 253.8h1.3v1.3h-1.3zM275.0 299.7h1.3v1.3h-1.3zM280.4 275.5h1.3v1.3h-1.3zM250.9 273.5h1.3v1.3h-1.3zM286.7 274.8h1.3v1.3h-1.3zM287.7 280.1h1.3v1.3h-1.3zM282.6 271.6h1.3v1.3h-1.3zM278.2 271.6h1.3v1.3h-1.3zM279.0 272.5h1.3v1.3h-1.3zM269.1 296.8h1.3v1.3h-1.3zM280.8 273.0h1.3v1.3h-1.3zM276.1 282.7h1.3v1.3h-1.3zM286.7 277.0h1.3v1.3h-1.3zM265.3 270.9h1.3v1.3h-1.3zM289.1 261.6h1.3v1.3h-1.3zM287.6 258.7h1.3v1.3h-1.3zM282.9 277.0h1.3v1.3h-1.3zM278.0 260.0h1.3v1.3h-1.3zM294.4 254.0h1.3v1.3h-1.3zM257.7 260.8h1.3v1.3h-1.3zM292.8 251.5h1.3v1.3h-1.3zM289.2 271.5h1.3v1.3h-1.3zM289.9 271.8h1.3v1.3h-1.3zM291.6 258.9h1.3v1.3h-1.3zM274.4 289.5h1.3v1.3h-1.3zM280.9 268.5h1.3v1.3h-1.3zM295.8 275.3h1.3v1.3h-1.3zM292.3 273.8h1.3v1.3h-1.3zM288.6 291.8h1.3v1.3h-1.3zM260.2 285.9h1.3v1.3h-1.3zM294.1 269.1h1.3v1.3h-1.3zM304.6 255.9h1.3v1.3h-1.3zM301.9 255.0h1.3v1.3h-1.3zM289.1 270.7h1.3v1.3h-1.3zM259.5 277.2h1.3v1.3h-1.3zM300.8 278.2h1.3v1.3h-1.3zM282.8 265.7h1.3v1.3h-1.3zM243.3 280.7h1.3v1.3h-1.3zM291.5 261.7h1.3v1.3h-1.3zM260.5 252.5h1.3v1.3h-1.3zM263.8 274.5h1.3v1.3h-1.3zM274.7 291.1h1.3v1.3h-1.3zM306.3 277.6h1.3v1.3h-1.3zM279.1 289.8h1.3v1.3h-1.3zM289.7 284.7h1.3v1.3h-1.3zM314.1 248.9h1.3v1.3h-1.3zM311.6 263.0h1.3v1.3h-1.3zM283.5 289.8h1.3v1.3h-1.3zM281.2 262.8h1.3v1.3h-1.3zM264.4 258.1h1.3v1.3h-1.3zM273.7 276.9h1.3v1.3h-1.3zM292.3 277.7h1.3v1.3h-1.3zM291.8 273.5h1.3v1.3h-1.3zM287.0 266.5h1.3v1.3h-1.3zM301.7 259.5h1.3v1.3h-1.3zM272.4 257.7h1.3v1.3h-1.3zM284.3 255.2h1.3v1.3h-1.3zM297.3 253.4h1.3v1.3h-1.3zM294.9 251.5h1.3v1.3h-1.3zM302.9 259.0h1.3v1.3h-1.3zM291.8 288.6h1.3v1.3h-1.3zM280.1 272.9h1.3v1.3h-1.3zM291.2 265.4h1.3v1.3h-1.3zM268.6 278.1h1.3v1.3h-1.3zM258.1 263.6h1.3v1.3h-1.3zM294.8 273.3h1.3v1.3h-1.3zM284.3 282.2h1.3v1.3h-1.3zM290.3 251.3h1.3v1.3h-1.3zM257.1 266.8h1.3v1.3h-1.3zM279.2 268.7h1.3v1.3h-1.3zM275.3 260.4h1.3v1.3h-1.3zM270.9 259.4h1.3v1.3h-1.3zM247.9 272.5h1.3v1.3h-1.3zM279.7 302.3h1.3v1.3h-1.3zM300.1 276.3h1.3v1.3h-1.3zM291.5 275.1h1.3v1.3h-1.3zM275.3 284.5h1.3v1.3h-1.3zM285.0 267.9h1.3v1.3h-1.3zM297.7 253.2h1.3v1.3h-1.3zM239.6 284.3h1.3v1.3h-1.3zM283.2 285.0h1.3v1.3h-1.3zM294.2 243.3h1.3v1.3h-1.3zM296.5 274.1h1.3v1.3h-1.3zM313.4 281.1h1.3v1.3h-1.3zM304.0 264.2h1.3v1.3h-1.3zM290.4 264.1h1.3v1.3h-1.3zM290.2 278.4h1.3v1.3h-1.3zM298.2 258.2h1.3v1.3h-1.3zM276.3 278.1h1.3v1.3h-1.3zM284.6 282.1h1.3v1.3h-1.3zM300.2 265.6h1.3v1.3h-1.3zM317.6 255.1h1.3v1.3h-1.3zM282.6 278.8h1.3v1.3h-1.3zM284.4 266.3h1.3v1.3h-1.3zM288.5 271.0h1.3v1.3h-1.3zM284.7 279.4h1.3v1.3h-1.3zM309.5 248.7h1.3v1.3h-1.3zM269.2 273.8h1.3v1.3h-1.3zM282.1 272.5h1.3v1.3h-1.3zM281.9 261.8h1.3v1.3h-1.3zM298.2 256.9h1.3v1.3h-1.3zM302.5 251.4h1.3v1.3h-1.3zM260.2 270.5h1.3v1.3h-1.3z" fill="#141414"/>
<line x1="234.60" y1="282.30" x2="328.70" y2="266.50" stroke="#2f6db5" stroke-width="1.5"/>
<rect x="230.50" y="235.00" width="102.10" height="91.50" fill="none" stroke="#000" stroke-width="1.2"/>
<line x1="227.20" y1="241.84" x2="230.50" y2="241.84" stroke="#231f20" stroke-width="1.0"/>
<text x="223.20" y="244.74" font-size="9.2" text-anchor="end" textLength="10.40" lengthAdjust="spacingAndGlyphs" fill="#231f20">5.4</text>
<line x1="227.20" y1="258.52" x2="230.50" y2="258.52" stroke="#231f20" stroke-width="1.0"/>
<text x="223.20" y="261.42" font-size="9.2" text-anchor="end" textLength="10.40" lengthAdjust="spacingAndGlyphs" fill="#231f20">5.2</text>
<line x1="227.20" y1="275.20" x2="230.50" y2="275.20" stroke="#231f20" stroke-width="1.0"/>
<text x="223.20" y="278.10" font-size="9.2" text-anchor="end" textLength="10.40" lengthAdjust="spacingAndGlyphs" fill="#231f20">5.0</text>
<line x1="227.20" y1="291.88" x2="230.50" y2="291.88" stroke="#231f20" stroke-width="1.0"/>
<text x="223.20" y="294.78" font-size="9.2" text-anchor="end" textLength="10.40" lengthAdjust="spacingAndGlyphs" fill="#231f20">4.8</text>
<line x1="227.20" y1="308.56" x2="230.50" y2="308.56" stroke="#231f20" stroke-width="1.0"/>
<text x="223.20" y="311.46" font-size="9.2" text-anchor="end" textLength="10.40" lengthAdjust="spacingAndGlyphs" fill="#231f20">4.6</text>
<line x1="227.20" y1="325.24" x2="230.50" y2="325.24" stroke="#231f20" stroke-width="1.0"/>
<text x="223.20" y="328.14" font-size="9.2" text-anchor="end" textLength="10.40" lengthAdjust="spacingAndGlyphs" fill="#231f20">4.4</text>
<line x1="240.00" y1="326.50" x2="240.00" y2="330.10" stroke="#231f20" stroke-width="1.0"/>
<text x="240.50" y="340.30" font-size="9.2" text-anchor="middle" textLength="10.40" lengthAdjust="spacingAndGlyphs" fill="#231f20">3.0</text>
<line x1="258.80" y1="326.50" x2="258.80" y2="330.10" stroke="#231f20" stroke-width="1.0"/>
<text x="259.30" y="340.30" font-size="9.2" text-anchor="middle" textLength="10.40" lengthAdjust="spacingAndGlyphs" fill="#231f20">3.5</text>
<line x1="277.60" y1="326.50" x2="277.60" y2="330.10" stroke="#231f20" stroke-width="1.0"/>
<text x="278.10" y="340.30" font-size="9.2" text-anchor="middle" textLength="10.40" lengthAdjust="spacingAndGlyphs" fill="#231f20">4.0</text>
<line x1="296.40" y1="326.50" x2="296.40" y2="330.10" stroke="#231f20" stroke-width="1.0"/>
<text x="296.90" y="340.30" font-size="9.2" text-anchor="middle" textLength="10.40" lengthAdjust="spacingAndGlyphs" fill="#231f20">4.5</text>
<line x1="315.20" y1="326.50" x2="315.20" y2="330.10" stroke="#231f20" stroke-width="1.0"/>
<text x="315.70" y="340.30" font-size="9.2" text-anchor="middle" textLength="10.40" lengthAdjust="spacingAndGlyphs" fill="#231f20">5.0</text>
<text x="220.20" y="225.90" font-size="10.8" textLength="115.80" lengthAdjust="spacingAndGlyphs" fill="#231f20">cor = 0.223, p = 1.76&#215; 10</text>
<text x="336.30" y="222.40" font-size="7.8" textLength="7.30" lengthAdjust="spacingAndGlyphs" fill="#231f20">-8</text>
<text transform="translate(182.60,280.50) rotate(-90)" x="0" y="0" font-size="9.5" text-anchor="middle" textLength="145.00" lengthAdjust="spacingAndGlyphs" fill="#231f20">NEGATIVE_REGULATION_OF_INTRINSIC_</text>
<text transform="translate(194.80,280.40) rotate(-90)" x="0" y="0" font-size="9.5" text-anchor="middle" textLength="121.00" lengthAdjust="spacingAndGlyphs" fill="#231f20">APOPTOTIC_SIGNALING_PATHWAY</text>
<text transform="translate(207.30,283.30) rotate(-90)" x="0" y="0" font-size="9.5" text-anchor="middle" textLength="101.50" lengthAdjust="spacingAndGlyphs" fill="#231f20">Log2 (geometric mean +1)</text>
<text x="237.50" y="354.60" font-size="10.3" textLength="89.00" lengthAdjust="spacingAndGlyphs" fill="#231f20"><tspan font-style="italic">HOIP (RNF31)</tspan> expression</text>
<text x="254.80" y="366.20" font-size="10.3" textLength="59.90" lengthAdjust="spacingAndGlyphs" fill="#231f20">Log2 (FPKM + 1)</text>
<path d="M435.0 252.3h1.3v1.3h-1.3zM436.0 264.2h1.3v1.3h-1.3zM452.4 241.3h1.3v1.3h-1.3zM453.5 266.5h1.3v1.3h-1.3zM466.3 249.3h1.3v1.3h-1.3zM451.0 268.2h1.3v1.3h-1.3zM461.0 241.2h1.3v1.3h-1.3zM468.2 257.5h1.3v1.3h-1.3zM447.0 261.3h1.3v1.3h-1.3zM421.2 260.4h1.3v1.3h-1.3zM426.0 256.2h1.3v1.3h-1.3zM421.9 277.6h1.3v1.3h-1.3zM469.4 257.3h1.3v1.3h-1.3zM431.2 277.3h1.3v1.3h-1.3zM463.7 254.8h1.3v1.3h-1.3zM453.6 259.8h1.3v1.3h-1.3zM471.3 256.7h1.3v1.3h-1.3zM460.1 262.8h1.3v1.3h-1.3zM442.8 265.3h1.3v1.3h-1.3zM441.3 268.8h1.3v1.3h-1.3zM445.8 256.7h1.3v1.3h-1.3zM447.2 247.8h1.3v1.3h-1.3zM436.1 280.5h1.3v1.3h-1.3zM443.9 262.7h1.3v1.3h-1.3zM469.6 257.8h1.3v1.3h-1.3zM417.8 265.1h1.3v1.3h-1.3zM448.5 268.5h1.3v1.3h-1.3zM430.2 266.9h1.3v1.3h-1.3zM447.4 269.6h1.3v1.3h-1.3zM457.6 251.8h1.3v1.3h-1.3zM443.5 261.0h1.3v1.3h-1.3zM456.5 259.4h1.3v1.3h-1.3zM419.5 265.6h1.3v1.3h-1.3zM461.8 258.6h1.3v1.3h-1.3zM435.0 277.6h1.3v1.3h-1.3zM454.2 253.6h1.3v1.3h-1.3zM447.3 258.3h1.3v1.3h-1.3zM403.9 274.6h1.3v1.3h-1.3zM432.6 256.6h1.3v1.3h-1.3zM447.9 250.2h1.3v1.3h-1.3zM468.8 263.8h1.3v1.3h-1.3zM448.9 266.9h1.3v1.3h-1.3zM448.5 247.2h1.3v1.3h-1.3zM422.3 255.9h1.3v1.3h-1.3zM466.9 261.4h1.3v1.3h-1.3zM472.7 263.4h1.3v1.3h-1.3zM444.9 266.9h1.3v1.3h-1.3zM441.0 266.8h1.3v1.3h-1.3zM419.1 282.4h1.3v1.3h-1.3zM458.3 257.3h1.3v1.3h-1.3zM486.8 260.2h1.3v1.3h-1.3zM455.7 268.6h1.3v1.3h-1.3zM464.2 248.0h1.3v1.3h-1.3zM452.9 264.9h1.3v1.3h-1.3zM429.0 266.6h1.3v1.3h-1.3zM465.4 250.1h1.3v1.3h-1.3zM425.1 260.2h1.3v1.3h-1.3zM441.1 265.4h1.3v1.3h-1.3zM448.8 259.9h1.3v1.3h-1.3zM458.3 264.6h1.3v1.3h-1.3zM451.0 244.8h1.3v1.3h-1.3zM450.5 254.3h1.3v1.3h-1.3zM432.5 274.4h1.3v1.3h-1.3zM424.2 267.4h1.3v1.3h-1.3zM445.4 255.2h1.3v1.3h-1.3zM433.3 260.7h1.3v1.3h-1.3zM423.9 251.9h1.3v1.3h-1.3zM424.6 255.6h1.3v1.3h-1.3zM436.8 268.4h1.3v1.3h-1.3zM415.4 270.7h1.3v1.3h-1.3zM423.3 278.6h1.3v1.3h-1.3zM418.8 266.9h1.3v1.3h-1.3zM447.3 259.4h1.3v1.3h-1.3zM450.8 236.6h1.3v1.3h-1.3zM475.9 251.6h1.3v1.3h-1.3zM421.0 286.2h1.3v1.3h-1.3zM433.8 270.4h1.3v1.3h-1.3zM458.7 256.5h1.3v1.3h-1.3zM441.0 273.3h1.3v1.3h-1.3zM439.3 270.5h1.3v1.3h-1.3zM471.2 256.9h1.3v1.3h-1.3zM439.1 260.2h1.3v1.3h-1.3zM426.3 268.2h1.3v1.3h-1.3zM423.8 275.1h1.3v1.3h-1.3zM449.7 253.3h1.3v1.3h-1.3zM449.2 264.8h1.3v1.3h-1.3zM422.9 272.1h1.3v1.3h-1.3zM429.0 277.8h1.3v1.3h-1.3zM452.8 265.8h1.3v1.3h-1.3zM453.5 253.4h1.3v1.3h-1.3zM434.4 278.3h1.3v1.3h-1.3zM454.2 259.3h1.3v1.3h-1.3zM453.4 252.8h1.3v1.3h-1.3zM416.5 272.9h1.3v1.3h-1.3zM439.5 260.9h1.3v1.3h-1.3zM450.9 269.2h1.3v1.3h-1.3zM435.5 253.0h1.3v1.3h-1.3zM410.9 261.9h1.3v1.3h-1.3zM440.0 260.8h1.3v1.3h-1.3zM456.2 273.1h1.3v1.3h-1.3zM469.2 263.3h1.3v1.3h-1.3zM410.1 263.2h1.3v1.3h-1.3zM426.8 264.2h1.3v1.3h-1.3zM459.4 246.6h1.3v1.3h-1.3zM463.8 261.1h1.3v1.3h-1.3zM459.8 258.7h1.3v1.3h-1.3zM446.8 260.9h1.3v1.3h-1.3zM426.2 263.2h1.3v1.3h-1.3zM454.2 271.8h1.3v1.3h-1.3zM433.2 256.8h1.3v1.3h-1.3zM404.9 261.7h1.3v1.3h-1.3zM488.8 258.5h1.3v1.3h-1.3zM455.5 269.9h1.3v1.3h-1.3zM472.9 250.3h1.3v1.3h-1.3zM430.2 271.3h1.3v1.3h-1.3zM467.4 275.1h1.3v1.3h-1.3zM469.3 247.4h1.3v1.3h-1.3zM468.8 253.2h1.3v1.3h-1.3zM444.1 265.7h1.3v1.3h-1.3zM425.6 249.0h1.3v1.3h-1.3zM441.7 261.2h1.3v1.3h-1.3zM409.9 278.0h1.3v1.3h-1.3zM417.8 268.4h1.3v1.3h-1.3zM445.9 270.0h1.3v1.3h-1.3zM428.9 272.6h1.3v1.3h-1.3zM441.9 259.0h1.3v1.3h-1.3zM442.7 266.8h1.3v1.3h-1.3zM474.7 256.6h1.3v1.3h-1.3zM464.8 241.4h1.3v1.3h-1.3zM443.7 254.4h1.3v1.3h-1.3zM463.4 249.2h1.3v1.3h-1.3zM432.2 260.6h1.3v1.3h-1.3zM439.2 259.0h1.3v1.3h-1.3zM458.7 245.0h1.3v1.3h-1.3zM425.0 267.4h1.3v1.3h-1.3zM440.1 247.0h1.3v1.3h-1.3zM423.7 275.7h1.3v1.3h-1.3zM446.3 263.2h1.3v1.3h-1.3zM470.0 265.9h1.3v1.3h-1.3zM432.7 267.9h1.3v1.3h-1.3zM448.0 256.1h1.3v1.3h-1.3zM430.4 253.3h1.3v1.3h-1.3zM426.4 272.5h1.3v1.3h-1.3zM425.1 267.1h1.3v1.3h-1.3zM467.2 258.0h1.3v1.3h-1.3zM481.4 257.1h1.3v1.3h-1.3zM452.0 269.5h1.3v1.3h-1.3zM433.2 264.3h1.3v1.3h-1.3zM455.5 273.1h1.3v1.3h-1.3zM439.2 262.1h1.3v1.3h-1.3zM457.0 257.7h1.3v1.3h-1.3zM449.0 265.9h1.3v1.3h-1.3zM448.8 268.9h1.3v1.3h-1.3zM453.9 270.6h1.3v1.3h-1.3zM435.4 248.2h1.3v1.3h-1.3zM438.1 274.9h1.3v1.3h-1.3zM417.5 256.1h1.3v1.3h-1.3zM437.5 258.4h1.3v1.3h-1.3zM422.2 271.1h1.3v1.3h-1.3zM442.2 272.1h1.3v1.3h-1.3zM429.4 257.0h1.3v1.3h-1.3zM446.0 246.3h1.3v1.3h-1.3zM451.5 267.5h1.3v1.3h-1.3zM422.2 270.6h1.3v1.3h-1.3zM431.7 256.3h1.3v1.3h-1.3zM429.7 263.0h1.3v1.3h-1.3zM456.1 241.1h1.3v1.3h-1.3zM471.2 258.7h1.3v1.3h-1.3zM457.8 253.1h1.3v1.3h-1.3zM439.0 273.8h1.3v1.3h-1.3zM467.4 237.0h1.3v1.3h-1.3zM420.7 274.7h1.3v1.3h-1.3zM467.9 273.6h1.3v1.3h-1.3zM434.2 265.6h1.3v1.3h-1.3zM400.9 275.4h1.3v1.3h-1.3zM469.2 257.3h1.3v1.3h-1.3zM428.3 266.4h1.3v1.3h-1.3zM447.1 255.7h1.3v1.3h-1.3zM441.1 249.0h1.3v1.3h-1.3zM446.0 261.6h1.3v1.3h-1.3zM421.2 259.4h1.3v1.3h-1.3zM433.8 260.2h1.3v1.3h-1.3zM451.8 262.0h1.3v1.3h-1.3zM447.9 259.9h1.3v1.3h-1.3zM463.2 255.9h1.3v1.3h-1.3zM445.7 269.0h1.3v1.3h-1.3zM481.2 240.5h1.3v1.3h-1.3zM433.2 276.6h1.3v1.3h-1.3zM448.5 250.4h1.3v1.3h-1.3zM414.4 262.1h1.3v1.3h-1.3zM424.8 268.1h1.3v1.3h-1.3zM465.2 262.1h1.3v1.3h-1.3zM429.7 267.8h1.3v1.3h-1.3zM452.7 255.1h1.3v1.3h-1.3zM443.5 255.5h1.3v1.3h-1.3zM428.1 263.9h1.3v1.3h-1.3zM439.0 254.7h1.3v1.3h-1.3zM436.4 268.7h1.3v1.3h-1.3zM436.8 261.8h1.3v1.3h-1.3zM456.2 271.5h1.3v1.3h-1.3zM454.7 252.1h1.3v1.3h-1.3zM435.4 262.9h1.3v1.3h-1.3zM430.2 269.2h1.3v1.3h-1.3zM448.9 250.4h1.3v1.3h-1.3zM442.9 256.1h1.3v1.3h-1.3zM460.5 280.9h1.3v1.3h-1.3zM486.0 249.2h1.3v1.3h-1.3zM457.6 270.2h1.3v1.3h-1.3zM443.9 252.6h1.3v1.3h-1.3zM441.7 241.1h1.3v1.3h-1.3zM431.0 269.9h1.3v1.3h-1.3zM430.2 265.0h1.3v1.3h-1.3zM428.7 268.3h1.3v1.3h-1.3zM438.2 260.4h1.3v1.3h-1.3zM437.7 258.0h1.3v1.3h-1.3zM456.1 247.2h1.3v1.3h-1.3zM438.2 271.8h1.3v1.3h-1.3zM441.3 249.0h1.3v1.3h-1.3zM425.3 275.1h1.3v1.3h-1.3zM470.2 251.7h1.3v1.3h-1.3zM452.4 249.4h1.3v1.3h-1.3zM472.5 247.3h1.3v1.3h-1.3zM456.9 266.0h1.3v1.3h-1.3zM467.8 260.8h1.3v1.3h-1.3zM440.5 266.6h1.3v1.3h-1.3zM455.7 258.7h1.3v1.3h-1.3zM486.8 239.5h1.3v1.3h-1.3zM425.3 278.2h1.3v1.3h-1.3zM462.9 252.2h1.3v1.3h-1.3zM471.0 248.6h1.3v1.3h-1.3zM451.0 254.9h1.3v1.3h-1.3zM456.4 254.1h1.3v1.3h-1.3zM464.5 242.8h1.3v1.3h-1.3zM433.9 260.4h1.3v1.3h-1.3zM451.0 252.3h1.3v1.3h-1.3zM430.5 260.8h1.3v1.3h-1.3zM433.6 249.4h1.3v1.3h-1.3zM434.5 280.7h1.3v1.3h-1.3zM442.1 251.3h1.3v1.3h-1.3zM446.8 263.1h1.3v1.3h-1.3zM451.7 261.9h1.3v1.3h-1.3zM421.7 276.4h1.3v1.3h-1.3zM476.2 268.3h1.3v1.3h-1.3zM463.0 259.4h1.3v1.3h-1.3zM456.1 264.0h1.3v1.3h-1.3zM438.7 259.0h1.3v1.3h-1.3zM443.0 274.5h1.3v1.3h-1.3zM453.2 246.8h1.3v1.3h-1.3zM451.0 257.3h1.3v1.3h-1.3zM417.5 271.5h1.3v1.3h-1.3zM456.3 264.2h1.3v1.3h-1.3zM491.2 254.7h1.3v1.3h-1.3zM414.8 279.8h1.3v1.3h-1.3zM460.4 261.6h1.3v1.3h-1.3zM450.4 259.8h1.3v1.3h-1.3zM442.6 263.6h1.3v1.3h-1.3zM466.5 267.2h1.3v1.3h-1.3zM425.4 269.3h1.3v1.3h-1.3zM447.1 268.4h1.3v1.3h-1.3zM468.0 253.4h1.3v1.3h-1.3zM441.3 246.6h1.3v1.3h-1.3zM437.7 258.2h1.3v1.3h-1.3zM446.3 263.7h1.3v1.3h-1.3zM437.3 277.5h1.3v1.3h-1.3zM469.3 266.4h1.3v1.3h-1.3zM429.8 280.2h1.3v1.3h-1.3zM458.5 251.3h1.3v1.3h-1.3zM424.3 273.9h1.3v1.3h-1.3zM455.2 257.9h1.3v1.3h-1.3zM442.7 267.4h1.3v1.3h-1.3zM402.8 272.9h1.3v1.3h-1.3zM444.3 249.6h1.3v1.3h-1.3zM427.3 272.4h1.3v1.3h-1.3zM437.3 266.5h1.3v1.3h-1.3zM469.2 261.3h1.3v1.3h-1.3zM426.4 259.3h1.3v1.3h-1.3zM427.4 275.3h1.3v1.3h-1.3zM467.6 264.5h1.3v1.3h-1.3zM446.3 272.9h1.3v1.3h-1.3zM469.3 266.4h1.3v1.3h-1.3zM449.6 256.0h1.3v1.3h-1.3zM430.2 243.8h1.3v1.3h-1.3zM443.4 270.4h1.3v1.3h-1.3zM464.2 247.7h1.3v1.3h-1.3zM459.6 255.0h1.3v1.3h-1.3zM444.4 271.0h1.3v1.3h-1.3zM445.2 263.7h1.3v1.3h-1.3zM442.6 264.1h1.3v1.3h-1.3zM435.1 270.2h1.3v1.3h-1.3zM444.5 277.8h1.3v1.3h-1.3zM426.2 263.6h1.3v1.3h-1.3zM436.8 261.0h1.3v1.3h-1.3zM456.1 263.1h1.3v1.3h-1.3zM454.8 257.3h1.3v1.3h-1.3zM442.2 254.7h1.3v1.3h-1.3zM433.7 263.4h1.3v1.3h-1.3zM444.8 257.9h1.3v1.3h-1.3zM417.5 263.5h1.3v1.3h-1.3zM423.5 285.0h1.3v1.3h-1.3zM457.3 245.2h1.3v1.3h-1.3zM436.7 244.4h1.3v1.3h-1.3zM450.5 251.4h1.3v1.3h-1.3zM464.1 247.2h1.3v1.3h-1.3zM454.9 270.5h1.3v1.3h-1.3zM444.8 262.5h1.3v1.3h-1.3zM478.7 258.5h1.3v1.3h-1.3zM455.2 263.5h1.3v1.3h-1.3zM438.7 255.0h1.3v1.3h-1.3zM456.2 265.0h1.3v1.3h-1.3zM451.0 260.8h1.3v1.3h-1.3zM430.6 281.9h1.3v1.3h-1.3zM445.6 262.6h1.3v1.3h-1.3zM441.8 261.6h1.3v1.3h-1.3zM412.8 276.8h1.3v1.3h-1.3zM441.7 268.5h1.3v1.3h-1.3zM439.9 246.8h1.3v1.3h-1.3zM437.4 273.9h1.3v1.3h-1.3zM417.9 278.2h1.3v1.3h-1.3zM438.7 270.1h1.3v1.3h-1.3zM443.8 251.5h1.3v1.3h-1.3zM446.1 243.1h1.3v1.3h-1.3zM426.1 264.0h1.3v1.3h-1.3zM454.6 264.7h1.3v1.3h-1.3zM424.9 270.9h1.3v1.3h-1.3zM440.8 253.5h1.3v1.3h-1.3zM465.5 263.2h1.3v1.3h-1.3zM433.3 252.4h1.3v1.3h-1.3zM436.2 251.9h1.3v1.3h-1.3zM461.7 255.9h1.3v1.3h-1.3zM438.3 257.8h1.3v1.3h-1.3zM439.7 256.5h1.3v1.3h-1.3zM448.0 247.3h1.3v1.3h-1.3zM461.3 265.6h1.3v1.3h-1.3zM409.0 261.8h1.3v1.3h-1.3zM431.1 268.6h1.3v1.3h-1.3zM428.2 272.8h1.3v1.3h-1.3zM427.0 265.8h1.3v1.3h-1.3zM430.7 267.4h1.3v1.3h-1.3zM430.9 273.9h1.3v1.3h-1.3zM449.3 273.8h1.3v1.3h-1.3zM430.1 273.8h1.3v1.3h-1.3zM446.4 248.6h1.3v1.3h-1.3zM450.9 242.9h1.3v1.3h-1.3zM432.7 259.4h1.3v1.3h-1.3zM446.5 250.8h1.3v1.3h-1.3zM470.7 258.3h1.3v1.3h-1.3zM449.6 260.7h1.3v1.3h-1.3zM434.2 262.1h1.3v1.3h-1.3zM443.4 271.1h1.3v1.3h-1.3zM429.7 274.3h1.3v1.3h-1.3zM448.8 259.5h1.3v1.3h-1.3zM458.3 260.3h1.3v1.3h-1.3zM431.3 274.5h1.3v1.3h-1.3zM441.1 259.2h1.3v1.3h-1.3zM462.3 258.6h1.3v1.3h-1.3zM436.5 255.2h1.3v1.3h-1.3zM447.4 260.7h1.3v1.3h-1.3zM428.0 268.9h1.3v1.3h-1.3zM431.3 264.3h1.3v1.3h-1.3zM436.2 265.4h1.3v1.3h-1.3zM478.5 257.4h1.3v1.3h-1.3zM438.0 266.9h1.3v1.3h-1.3zM436.1 257.6h1.3v1.3h-1.3zM435.6 258.6h1.3v1.3h-1.3zM441.8 251.3h1.3v1.3h-1.3zM454.7 273.0h1.3v1.3h-1.3zM447.4 264.1h1.3v1.3h-1.3zM476.7 255.7h1.3v1.3h-1.3zM447.8 259.1h1.3v1.3h-1.3zM467.1 258.8h1.3v1.3h-1.3zM448.8 264.7h1.3v1.3h-1.3zM453.9 252.1h1.3v1.3h-1.3zM421.8 266.6h1.3v1.3h-1.3zM442.4 272.1h1.3v1.3h-1.3zM443.4 250.5h1.3v1.3h-1.3zM440.6 254.2h1.3v1.3h-1.3zM410.7 276.2h1.3v1.3h-1.3zM458.2 250.5h1.3v1.3h-1.3zM438.4 269.6h1.3v1.3h-1.3zM437.6 253.9h1.3v1.3h-1.3zM440.4 264.6h1.3v1.3h-1.3zM440.9 269.5h1.3v1.3h-1.3zM450.8 262.9h1.3v1.3h-1.3zM424.5 273.9h1.3v1.3h-1.3zM429.8 264.2h1.3v1.3h-1.3zM449.0 258.7h1.3v1.3h-1.3zM446.7 260.6h1.3v1.3h-1.3zM438.5 268.0h1.3v1.3h-1.3zM435.4 295.4h1.3v1.3h-1.3zM431.4 264.6h1.3v1.3h-1.3zM443.5 278.0h1.3v1.3h-1.3zM462.9 254.1h1.3v1.3h-1.3zM427.9 256.7h1.3v1.3h-1.3zM468.3 252.3h1.3v1.3h-1.3zM457.7 261.1h1.3v1.3h-1.3zM437.3 265.2h1.3v1.3h-1.3zM456.7 259.1h1.3v1.3h-1.3zM421.5 272.9h1.3v1.3h-1.3zM417.3 274.4h1.3v1.3h-1.3zM424.2 275.3h1.3v1.3h-1.3zM438.0 253.3h1.3v1.3h-1.3zM439.3 263.2h1.3v1.3h-1.3zM436.4 255.7h1.3v1.3h-1.3zM446.0 263.2h1.3v1.3h-1.3zM411.0 270.7h1.3v1.3h-1.3zM452.2 260.8h1.3v1.3h-1.3zM422.2 264.1h1.3v1.3h-1.3zM434.1 257.5h1.3v1.3h-1.3zM438.0 261.4h1.3v1.3h-1.3zM426.3 272.6h1.3v1.3h-1.3zM423.0 274.5h1.3v1.3h-1.3zM428.7 252.0h1.3v1.3h-1.3zM444.2 264.0h1.3v1.3h-1.3zM453.7 261.4h1.3v1.3h-1.3zM453.3 246.5h1.3v1.3h-1.3zM428.9 256.8h1.3v1.3h-1.3zM432.0 260.6h1.3v1.3h-1.3zM430.0 269.2h1.3v1.3h-1.3zM451.5 239.4h1.3v1.3h-1.3zM412.5 267.5h1.3v1.3h-1.3zM463.8 251.3h1.3v1.3h-1.3zM436.8 265.2h1.3v1.3h-1.3zM432.2 277.2h1.3v1.3h-1.3zM449.8 271.4h1.3v1.3h-1.3zM460.6 253.4h1.3v1.3h-1.3zM449.8 256.7h1.3v1.3h-1.3zM460.9 258.8h1.3v1.3h-1.3zM446.5 271.0h1.3v1.3h-1.3zM463.7 268.3h1.3v1.3h-1.3zM463.9 258.7h1.3v1.3h-1.3zM442.9 274.4h1.3v1.3h-1.3zM467.0 247.3h1.3v1.3h-1.3zM447.0 251.0h1.3v1.3h-1.3zM445.8 237.0h1.3v1.3h-1.3zM430.0 258.3h1.3v1.3h-1.3zM439.9 267.9h1.3v1.3h-1.3zM456.6 265.5h1.3v1.3h-1.3zM423.9 297.0h1.3v1.3h-1.3zM454.6 263.7h1.3v1.3h-1.3zM449.9 261.5h1.3v1.3h-1.3zM448.8 252.0h1.3v1.3h-1.3zM409.9 266.4h1.3v1.3h-1.3zM442.8 257.0h1.3v1.3h-1.3zM454.6 256.8h1.3v1.3h-1.3zM432.5 259.4h1.3v1.3h-1.3zM445.8 248.8h1.3v1.3h-1.3zM407.2 281.5h1.3v1.3h-1.3zM455.0 262.4h1.3v1.3h-1.3zM434.1 276.4h1.3v1.3h-1.3zM458.1 243.8h1.3v1.3h-1.3zM415.6 258.9h1.3v1.3h-1.3zM455.3 252.0h1.3v1.3h-1.3zM440.7 272.9h1.3v1.3h-1.3zM457.1 256.4h1.3v1.3h-1.3zM429.9 267.8h1.3v1.3h-1.3zM434.7 263.7h1.3v1.3h-1.3zM479.6 253.0h1.3v1.3h-1.3zM431.4 260.9h1.3v1.3h-1.3zM433.4 268.1h1.3v1.3h-1.3zM440.1 255.5h1.3v1.3h-1.3zM428.4 264.1h1.3v1.3h-1.3zM463.1 258.7h1.3v1.3h-1.3zM471.5 254.7h1.3v1.3h-1.3zM433.4 268.5h1.3v1.3h-1.3zM417.4 262.5h1.3v1.3h-1.3zM462.8 258.6h1.3v1.3h-1.3zM461.8 254.0h1.3v1.3h-1.3zM457.3 261.2h1.3v1.3h-1.3zM462.6 269.0h1.3v1.3h-1.3zM430.8 257.8h1.3v1.3h-1.3zM441.8 271.4h1.3v1.3h-1.3zM422.8 262.1h1.3v1.3h-1.3zM422.2 264.4h1.3v1.3h-1.3zM459.8 271.2h1.3v1.3h-1.3zM433.9 272.7h1.3v1.3h-1.3zM480.1 255.6h1.3v1.3h-1.3zM445.6 268.2h1.3v1.3h-1.3zM434.4 274.6h1.3v1.3h-1.3zM456.9 251.6h1.3v1.3h-1.3zM472.7 255.4h1.3v1.3h-1.3zM452.0 256.1h1.3v1.3h-1.3zM425.4 270.8h1.3v1.3h-1.3zM450.2 257.3h1.3v1.3h-1.3zM466.0 261.7h1.3v1.3h-1.3zM436.7 264.0h1.3v1.3h-1.3zM432.3 260.1h1.3v1.3h-1.3zM460.4 256.6h1.3v1.3h-1.3zM446.6 264.8h1.3v1.3h-1.3zM427.2 275.9h1.3v1.3h-1.3zM438.5 261.9h1.3v1.3h-1.3zM432.6 262.1h1.3v1.3h-1.3zM449.1 262.4h1.3v1.3h-1.3zM446.2 267.6h1.3v1.3h-1.3zM462.5 251.7h1.3v1.3h-1.3zM455.6 237.2h1.3v1.3h-1.3zM419.9 271.3h1.3v1.3h-1.3zM450.8 256.8h1.3v1.3h-1.3zM458.5 254.3h1.3v1.3h-1.3zM451.6 281.4h1.3v1.3h-1.3zM460.6 255.8h1.3v1.3h-1.3zM435.8 270.1h1.3v1.3h-1.3zM429.5 254.1h1.3v1.3h-1.3zM459.0 259.5h1.3v1.3h-1.3zM427.7 273.0h1.3v1.3h-1.3zM410.6 273.2h1.3v1.3h-1.3zM460.5 255.5h1.3v1.3h-1.3zM433.1 269.6h1.3v1.3h-1.3zM439.6 263.4h1.3v1.3h-1.3zM422.5 279.5h1.3v1.3h-1.3zM423.7 269.5h1.3v1.3h-1.3zM426.3 260.2h1.3v1.3h-1.3zM438.8 246.4h1.3v1.3h-1.3zM450.2 253.8h1.3v1.3h-1.3zM408.4 269.7h1.3v1.3h-1.3zM456.2 248.0h1.3v1.3h-1.3zM425.9 258.2h1.3v1.3h-1.3zM427.7 252.2h1.3v1.3h-1.3zM455.1 249.2h1.3v1.3h-1.3zM443.3 262.9h1.3v1.3h-1.3zM420.4 266.3h1.3v1.3h-1.3zM473.3 251.6h1.3v1.3h-1.3zM431.0 262.9h1.3v1.3h-1.3zM448.3 258.7h1.3v1.3h-1.3zM447.6 267.3h1.3v1.3h-1.3zM466.5 273.1h1.3v1.3h-1.3zM437.3 269.4h1.3v1.3h-1.3zM460.2 274.3h1.3v1.3h-1.3zM432.8 264.4h1.3v1.3h-1.3zM462.0 256.4h1.3v1.3h-1.3zM432.5 279.3h1.3v1.3h-1.3zM438.8 257.3h1.3v1.3h-1.3zM474.1 245.5h1.3v1.3h-1.3zM449.4 259.3h1.3v1.3h-1.3zM446.2 246.8h1.3v1.3h-1.3zM450.1 270.2h1.3v1.3h-1.3zM431.6 256.4h1.3v1.3h-1.3zM455.9 254.5h1.3v1.3h-1.3zM425.9 263.4h1.3v1.3h-1.3zM462.1 248.5h1.3v1.3h-1.3zM463.3 262.2h1.3v1.3h-1.3zM435.5 269.2h1.3v1.3h-1.3zM434.6 271.5h1.3v1.3h-1.3zM447.2 267.2h1.3v1.3h-1.3zM444.7 262.3h1.3v1.3h-1.3zM429.1 278.4h1.3v1.3h-1.3zM453.3 267.9h1.3v1.3h-1.3zM412.4 265.9h1.3v1.3h-1.3zM437.7 264.1h1.3v1.3h-1.3zM438.1 260.1h1.3v1.3h-1.3zM440.2 278.9h1.3v1.3h-1.3zM449.2 266.9h1.3v1.3h-1.3zM425.2 271.9h1.3v1.3h-1.3zM453.7 258.6h1.3v1.3h-1.3zM441.6 267.4h1.3v1.3h-1.3zM434.2 256.6h1.3v1.3h-1.3zM423.0 268.3h1.3v1.3h-1.3zM425.9 266.8h1.3v1.3h-1.3zM450.1 259.8h1.3v1.3h-1.3zM429.3 259.9h1.3v1.3h-1.3zM445.4 265.3h1.3v1.3h-1.3zM461.1 247.2h1.3v1.3h-1.3zM460.6 252.9h1.3v1.3h-1.3zM468.9 253.2h1.3v1.3h-1.3zM439.8 262.6h1.3v1.3h-1.3zM427.4 262.1h1.3v1.3h-1.3zM460.4 248.3h1.3v1.3h-1.3zM449.3 252.1h1.3v1.3h-1.3zM462.0 253.2h1.3v1.3h-1.3zM444.6 254.0h1.3v1.3h-1.3zM463.2 255.1h1.3v1.3h-1.3zM457.7 247.0h1.3v1.3h-1.3zM455.7 258.5h1.3v1.3h-1.3zM452.3 277.0h1.3v1.3h-1.3zM450.7 248.3h1.3v1.3h-1.3zM448.1 259.6h1.3v1.3h-1.3zM448.0 270.5h1.3v1.3h-1.3zM459.9 258.8h1.3v1.3h-1.3zM436.4 271.4h1.3v1.3h-1.3zM442.8 257.8h1.3v1.3h-1.3zM459.9 270.5h1.3v1.3h-1.3zM443.0 257.3h1.3v1.3h-1.3zM440.6 266.1h1.3v1.3h-1.3zM439.6 272.0h1.3v1.3h-1.3zM424.4 286.5h1.3v1.3h-1.3zM433.2 264.2h1.3v1.3h-1.3zM439.5 266.0h1.3v1.3h-1.3zM478.2 255.3h1.3v1.3h-1.3zM447.7 278.9h1.3v1.3h-1.3zM459.1 253.7h1.3v1.3h-1.3zM428.7 251.8h1.3v1.3h-1.3zM450.0 276.3h1.3v1.3h-1.3zM455.0 248.5h1.3v1.3h-1.3zM472.7 258.2h1.3v1.3h-1.3zM433.5 244.7h1.3v1.3h-1.3zM453.9 255.1h1.3v1.3h-1.3zM449.2 261.8h1.3v1.3h-1.3zM428.4 256.8h1.3v1.3h-1.3zM444.1 257.2h1.3v1.3h-1.3zM440.3 267.8h1.3v1.3h-1.3zM408.0 266.1h1.3v1.3h-1.3zM453.8 263.2h1.3v1.3h-1.3zM452.9 274.4h1.3v1.3h-1.3zM437.6 246.2h1.3v1.3h-1.3zM423.5 270.6h1.3v1.3h-1.3zM467.6 260.0h1.3v1.3h-1.3zM448.6 257.5h1.3v1.3h-1.3zM460.4 270.3h1.3v1.3h-1.3zM466.5 266.7h1.3v1.3h-1.3zM436.3 268.2h1.3v1.3h-1.3zM457.2 262.3h1.3v1.3h-1.3zM440.7 262.0h1.3v1.3h-1.3zM443.5 252.3h1.3v1.3h-1.3zM443.1 266.0h1.3v1.3h-1.3zM444.4 257.4h1.3v1.3h-1.3zM461.9 251.4h1.3v1.3h-1.3zM446.4 270.3h1.3v1.3h-1.3zM442.0 260.3h1.3v1.3h-1.3zM440.1 270.9h1.3v1.3h-1.3zM449.8 250.9h1.3v1.3h-1.3zM430.4 261.7h1.3v1.3h-1.3zM436.6 263.7h1.3v1.3h-1.3zM443.6 273.2h1.3v1.3h-1.3zM435.6 263.1h1.3v1.3h-1.3zM442.6 268.6h1.3v1.3h-1.3zM434.9 258.3h1.3v1.3h-1.3zM475.8 253.5h1.3v1.3h-1.3zM465.3 262.5h1.3v1.3h-1.3zM451.5 251.6h1.3v1.3h-1.3zM443.6 255.6h1.3v1.3h-1.3zM478.8 256.7h1.3v1.3h-1.3zM449.5 250.2h1.3v1.3h-1.3zM443.1 264.5h1.3v1.3h-1.3zM449.2 262.8h1.3v1.3h-1.3zM449.2 259.1h1.3v1.3h-1.3z" fill="#141414"/>
<line x1="398.50" y1="279.80" x2="492.80" y2="250.40" stroke="#2b4d8f" stroke-width="1.5"/>
<rect x="394.90" y="235.20" width="101.60" height="91.30" fill="none" stroke="#000" stroke-width="1.2"/>
<line x1="391.60" y1="235.30" x2="394.90" y2="235.30" stroke="#231f20" stroke-width="1.0"/>
<text x="388.00" y="238.20" font-size="9.2" text-anchor="end" textLength="10.40" lengthAdjust="spacingAndGlyphs" fill="#231f20">5.0</text>
<line x1="391.60" y1="256.32" x2="394.90" y2="256.32" stroke="#231f20" stroke-width="1.0"/>
<text x="388.00" y="259.22" font-size="9.2" text-anchor="end" textLength="10.40" lengthAdjust="spacingAndGlyphs" fill="#231f20">4.5</text>
<line x1="391.60" y1="277.35" x2="394.90" y2="277.35" stroke="#231f20" stroke-width="1.0"/>
<text x="388.00" y="280.25" font-size="9.2" text-anchor="end" textLength="10.40" lengthAdjust="spacingAndGlyphs" fill="#231f20">4.0</text>
<line x1="391.60" y1="298.38" x2="394.90" y2="298.38" stroke="#231f20" stroke-width="1.0"/>
<text x="388.00" y="301.27" font-size="9.2" text-anchor="end" textLength="10.40" lengthAdjust="spacingAndGlyphs" fill="#231f20">3.5</text>
<line x1="391.60" y1="319.40" x2="394.90" y2="319.40" stroke="#231f20" stroke-width="1.0"/>
<text x="388.00" y="322.30" font-size="9.2" text-anchor="end" textLength="10.40" lengthAdjust="spacingAndGlyphs" fill="#231f20">3.0</text>
<line x1="404.80" y1="326.50" x2="404.80" y2="330.10" stroke="#231f20" stroke-width="1.0"/>
<text x="405.30" y="339.50" font-size="9.2" text-anchor="middle" textLength="10.40" lengthAdjust="spacingAndGlyphs" fill="#231f20">3.0</text>
<line x1="423.45" y1="326.50" x2="423.45" y2="330.10" stroke="#231f20" stroke-width="1.0"/>
<text x="423.95" y="339.50" font-size="9.2" text-anchor="middle" textLength="10.40" lengthAdjust="spacingAndGlyphs" fill="#231f20">3.5</text>
<line x1="442.10" y1="326.50" x2="442.10" y2="330.10" stroke="#231f20" stroke-width="1.0"/>
<text x="442.60" y="339.50" font-size="9.2" text-anchor="middle" textLength="10.40" lengthAdjust="spacingAndGlyphs" fill="#231f20">4.0</text>
<line x1="460.75" y1="326.50" x2="460.75" y2="330.10" stroke="#231f20" stroke-width="1.0"/>
<text x="461.25" y="339.50" font-size="9.2" text-anchor="middle" textLength="10.40" lengthAdjust="spacingAndGlyphs" fill="#231f20">4.5</text>
<line x1="479.40" y1="326.50" x2="479.40" y2="330.10" stroke="#231f20" stroke-width="1.0"/>
<text x="479.90" y="339.50" font-size="9.2" text-anchor="middle" textLength="10.40" lengthAdjust="spacingAndGlyphs" fill="#231f20">5.0</text>
<text x="381.50" y="225.90" font-size="10.8" textLength="119.50" lengthAdjust="spacingAndGlyphs" fill="#231f20">cor = 0.470, p = 1.42 &#215; 10</text>
<text x="501.00" y="222.40" font-size="7.8" textLength="10.30" lengthAdjust="spacingAndGlyphs" fill="#231f20">-35</text>
<text transform="translate(359.30,279.90) rotate(-90)" x="0" y="0" font-size="9.5" text-anchor="middle" textLength="96.70" lengthAdjust="spacingAndGlyphs" fill="#231f20">BIOCARTA_NFKB_PATHWAY</text>
<text transform="translate(370.20,280.10) rotate(-90)" x="0" y="0" font-size="9.5" text-anchor="middle" textLength="94.90" lengthAdjust="spacingAndGlyphs" fill="#231f20">Log2 (geometric mean +1)</text>
<text x="402.30" y="354.00" font-size="10.3" textLength="89.30" lengthAdjust="spacingAndGlyphs" fill="#231f20"><tspan font-style="italic">HOIP (RNF31)</tspan> expression</text>
<text x="419.60" y="366.20" font-size="10.3" textLength="60.60" lengthAdjust="spacingAndGlyphs" fill="#231f20">Log2 (FPKM + 1)</text>
<rect x="0.5" y="0.5" width="519" height="376" fill="none" stroke="#000" stroke-width="1"/>
</svg>
</body></html>
